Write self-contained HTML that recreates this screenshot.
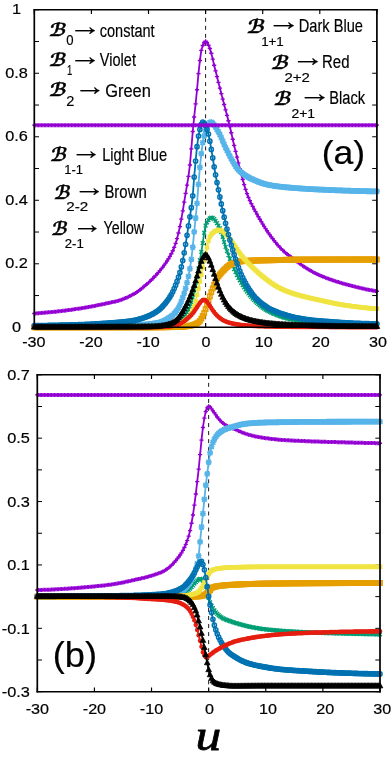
<!DOCTYPE html>
<html lang="en"><head><meta charset="utf-8"><title>Figure</title>
<style>html,body{margin:0;padding:0;background:#fff}svg{display:block}</style></head>
<body>
<svg width="392" height="758" viewBox="0 0 392 758">
<rect width="392" height="758" fill="#fff"/>
<defs>
<marker id="m-violet" markerUnits="userSpaceOnUse" markerWidth="12" markerHeight="12" refX="6" refY="6" viewBox="0 0 12 12" orient="0" overflow="visible"><g transform="translate(6 6) scale(1.0 1) translate(-6 -6)"><path d="M3.9 6H8.1M6 4V8" stroke="#9400D3" stroke-width="1.35" fill="none"/></g></marker>
<marker id="m-green" markerUnits="userSpaceOnUse" markerWidth="12" markerHeight="12" refX="6" refY="6" viewBox="0 0 12 12" orient="0" overflow="visible"><g transform="translate(6 6) scale(1.0 1) translate(-6 -6)"><path d="M4.1 4.1L7.9 7.9M4.1 7.9L7.9 4.1" stroke="#009E73" stroke-width="1.4" fill="none"/></g></marker>
<marker id="m-lblue" markerUnits="userSpaceOnUse" markerWidth="12" markerHeight="12" refX="6" refY="6" viewBox="0 0 12 12" orient="0" overflow="visible"><g transform="translate(6 6) scale(1.0 1) translate(-6 -6)"><path d="M3.1 6H8.9M6 3.1V8.9M3.68 3.68L8.32 8.32M3.68 8.32L8.32 3.68" stroke="#56B4E9" stroke-width="1.6" fill="none"/></g></marker>
<marker id="m-orange" markerUnits="userSpaceOnUse" markerWidth="12" markerHeight="12" refX="6" refY="6" viewBox="0 0 12 12" orient="0" overflow="visible"><g transform="translate(6 6) scale(1.0 1) translate(-6 -6)"><rect x="3.85" y="3.85" width="4.3" height="4.3" stroke="#E69F00" stroke-width="1.6" fill="none"/></g></marker>
<marker id="m-yellow" markerUnits="userSpaceOnUse" markerWidth="12" markerHeight="12" refX="6" refY="6" viewBox="0 0 12 12" orient="0" overflow="visible"><g transform="translate(6 6) scale(1.0 1) translate(-6 -6)"><rect x="3.75" y="3.75" width="4.5" height="4.5" fill="#F0E442"/></g></marker>
<marker id="m-dblue" markerUnits="userSpaceOnUse" markerWidth="12" markerHeight="12" refX="6" refY="6" viewBox="0 0 12 12" orient="0" overflow="visible"><g transform="translate(6 6) scale(1.0 1) translate(-6 -6)"><circle cx="6" cy="6" r="2.1" stroke="#0072B2" stroke-width="1.5" fill="none"/></g></marker>
<marker id="m-red" markerUnits="userSpaceOnUse" markerWidth="12" markerHeight="12" refX="6" refY="6" viewBox="0 0 12 12" orient="0" overflow="visible"><g transform="translate(6 6) scale(1.0 1) translate(-6 -6)"><circle cx="6" cy="6" r="2.3" fill="#E51E10"/></g></marker>
<marker id="m-black" markerUnits="userSpaceOnUse" markerWidth="12" markerHeight="12" refX="6" refY="6" viewBox="0 0 12 12" orient="0" overflow="visible"><g transform="translate(6 6) scale(1.0 1) translate(-6 -6)"><path d="M6 2.6L8.8 7.7L3.2 7.7Z" fill="#000000" stroke="#000000" stroke-width="0.8"/></g></marker>
</defs>
<g id="plot-a">
<line x1="205.6" y1="9.75" x2="205.6" y2="327.3" stroke="#000" stroke-width="0.9" stroke-dasharray="4 4.04"/>
<path d="M34.3 327.3v-4.3 M34.3 9.75v4.3 M91.4 327.3v-4.3 M91.4 9.75v4.3 M148.5 327.3v-4.3 M148.5 9.75v4.3 M205.6 327.3v-4.3 M205.6 9.75v4.3 M262.7 327.3v-4.3 M262.7 9.75v4.3 M319.8 327.3v-4.3 M319.8 9.75v4.3 M376.9 327.3v-4.3 M376.9 9.75v4.3" stroke="#000" stroke-width="1.15" fill="none"/>
<path d="M34.3 327.3h4.7 M376.9 327.3h-4.7 M34.3 295.55h4.7 M376.9 295.55h-4.7 M34.3 263.79h4.7 M376.9 263.79h-4.7 M34.3 232.04h4.7 M376.9 232.04h-4.7 M34.3 200.28h4.7 M376.9 200.28h-4.7 M34.3 168.53h4.7 M376.9 168.53h-4.7 M34.3 136.77h4.7 M376.9 136.77h-4.7 M34.3 105.02h4.7 M376.9 105.02h-4.7 M34.3 73.26h4.7 M376.9 73.26h-4.7 M34.3 41.5h4.7 M376.9 41.5h-4.7 M34.3 9.75h4.7 M376.9 9.75h-4.7" stroke="#000" stroke-width="1" fill="none"/>
<polyline fill="none" stroke="#9400D3" stroke-width="1.8" stroke-linejoin="round" marker-start="url(#m-violet)" marker-mid="url(#m-violet)" marker-end="url(#m-violet)" points="34.3,313.49 35.73,313.39 37.15,313.29 38.58,313.19 40.01,313.08 41.44,312.97 42.86,312.85 44.29,312.73 45.72,312.6 47.15,312.47 48.57,312.34 50,312.2 51.43,312.06 52.86,311.92 54.28,311.77 55.71,311.63 57.14,311.47 58.57,311.32 59.99,311.16 61.42,311 62.85,310.83 64.28,310.66 65.7,310.47 67.13,310.29 68.56,310.1 69.99,309.9 71.41,309.7 72.84,309.5 74.27,309.29 75.7,309.07 77.12,308.86 78.55,308.64 79.98,308.41 81.41,308.19 82.83,307.96 84.26,307.72 85.69,307.49 87.12,307.24 88.54,306.99 89.97,306.73 91.4,306.47 92.83,306.2 94.25,305.92 95.68,305.64 97.11,305.36 98.54,305.07 99.96,304.78 101.39,304.48 102.82,304.19 104.25,303.88 105.67,303.58 107.1,303.28 108.53,302.97 109.96,302.67 111.38,302.37 112.81,302.06 114.24,301.75 115.67,301.41 117.09,301.04 118.52,300.63 119.95,300.18 121.38,299.7 122.8,299.18 124.23,298.62 125.66,298.04 127.09,297.41 128.51,296.76 129.94,296.07 131.37,295.34 132.8,294.59 134.22,293.78 135.65,292.9 137.08,291.94 138.51,290.92 139.94,289.85 141.36,288.73 142.79,287.56 144.22,286.37 145.64,285.16 147.07,283.92 148.5,282.67 149.93,281.35 151.35,279.96 152.78,278.52 154.21,277.04 155.64,275.51 157.06,273.95 158.49,272.35 159.92,270.68 161.35,268.93 162.77,267.07 164.2,265.13 165.63,263.11 167.06,260.98 168.48,258.72 169.91,256.31 171.34,253.7 172.77,250.78 174.19,247.42 175.62,243.44 177.05,238.67 178.48,233.02 179.9,226.61 181.33,219.17 182.76,210.88 184.19,202.15 185.61,193.38 187.04,185.08 188.47,176.38 189.9,164.99 191.32,148.83 192.75,131.54 194.18,116.99 195.61,103.9 197.03,89.75 198.46,73.6 199.89,60.53 201.32,50.43 202.74,45.54 204.17,42.54 205.6,41.35 207.03,42.51 208.45,45.24 209.88,48.51 211.31,53.21 212.74,59.11 214.16,65.24 215.59,70.91 217.02,76.63 218.45,82.38 219.87,88.07 221.3,93.62 222.73,99.06 224.16,104.47 225.58,109.92 227.01,115.31 228.44,120.77 229.87,126.53 231.29,132.77 232.72,139.21 234.15,145.43 235.58,151.33 237,157.09 238.43,162.87 239.86,168.71 241.29,174.24 242.71,179.48 244.14,184.61 245.57,189.4 247,193.68 248.42,197.32 249.85,200.61 251.28,203.62 252.71,206.43 254.13,209.09 255.56,211.66 256.99,214.19 258.42,216.73 259.84,219.22 261.27,221.66 262.7,224.05 264.13,226.37 265.56,228.62 266.98,230.79 268.41,232.89 269.84,234.9 271.26,236.84 272.69,238.74 274.12,240.59 275.55,242.38 276.97,244.11 278.4,245.77 279.83,247.35 281.26,248.84 282.68,250.24 284.11,251.55 285.54,252.78 286.97,253.95 288.39,255.07 289.82,256.15 291.25,257.2 292.68,258.25 294.1,259.3 295.53,260.36 296.96,261.44 298.39,262.51 299.81,263.57 301.24,264.62 302.67,265.65 304.1,266.65 305.52,267.6 306.95,268.52 308.38,269.39 309.81,270.24 311.24,271.06 312.66,271.86 314.09,272.63 315.52,273.37 316.94,274.07 318.37,274.73 319.8,275.35 321.23,275.96 322.65,276.54 324.08,277.12 325.51,277.68 326.94,278.23 328.36,278.76 329.79,279.28 331.22,279.78 332.65,280.27 334.07,280.75 335.5,281.22 336.93,281.68 338.36,282.12 339.79,282.56 341.21,282.98 342.64,283.39 344.07,283.8 345.5,284.19 346.92,284.58 348.35,284.97 349.78,285.35 351.2,285.73 352.63,286.1 354.06,286.46 355.49,286.82 356.91,287.17 358.34,287.52 359.77,287.86 361.2,288.19 362.62,288.51 364.05,288.83 365.48,289.13 366.91,289.43 368.33,289.72 369.76,290 371.19,290.27 372.62,290.54 374.05,290.79 375.47,291.03 376.9,291.26"/>
<polyline fill="none" stroke="#009E73" stroke-width="1.8" stroke-linejoin="round" marker-start="url(#m-green)" marker-mid="url(#m-green)" marker-end="url(#m-green)" points="34.3,327.14 35.73,327.14 37.15,327.14 38.58,327.14 40.01,327.14 41.44,327.14 42.86,327.14 44.29,327.13 45.72,327.13 47.15,327.13 48.57,327.13 50,327.12 51.43,327.12 52.86,327.12 54.28,327.11 55.71,327.11 57.14,327.11 58.57,327.1 59.99,327.1 61.42,327.09 62.85,327.09 64.28,327.08 65.7,327.07 67.13,327.07 68.56,327.06 69.99,327.05 71.41,327.04 72.84,327.04 74.27,327.03 75.7,327.02 77.12,327.01 78.55,327 79.98,326.99 81.41,326.98 82.83,326.97 84.26,326.96 85.69,326.95 87.12,326.94 88.54,326.92 89.97,326.91 91.4,326.9 92.83,326.89 94.25,326.87 95.68,326.86 97.11,326.84 98.54,326.83 99.96,326.81 101.39,326.8 102.82,326.78 104.25,326.77 105.67,326.75 107.1,326.73 108.53,326.71 109.96,326.7 111.38,326.68 112.81,326.66 114.24,326.64 115.67,326.62 117.09,326.6 118.52,326.58 119.95,326.56 121.38,326.54 122.8,326.51 124.23,326.49 125.66,326.47 127.09,326.44 128.51,326.42 129.94,326.39 131.37,326.37 132.8,326.34 134.22,326.32 135.65,326.29 137.08,326.26 138.51,326.24 139.94,326.21 141.36,326.18 142.79,326.15 144.22,326.12 145.64,326.09 147.07,326.06 148.5,326.03 149.93,325.99 151.35,325.93 152.78,325.86 154.21,325.77 155.64,325.67 157.06,325.55 158.49,325.41 159.92,325.26 161.35,325.09 162.77,324.9 164.2,324.71 165.63,324.49 167.06,324.26 168.48,324.02 169.91,323.76 171.34,323.49 172.77,323.15 174.19,322.7 175.62,322.13 177.05,321.46 178.48,320.68 179.9,319.81 181.33,318.84 182.76,317.77 184.19,316.42 185.61,314.61 187.04,312.4 188.47,309.83 189.9,306.64 191.32,302.59 192.75,297.79 194.18,292.37 195.61,285.52 197.03,277.15 198.46,268.4 199.89,260.17 201.32,251.94 202.74,243.14 204.17,232.95 205.6,225.58 207.03,222.46 208.45,220 209.88,218.3 211.31,217.57 212.74,217.88 214.16,219.03 215.59,220.82 217.02,223.07 218.45,225.6 219.87,228.27 221.3,232.08 222.73,236.93 224.16,242.11 225.58,246.91 227.01,251.07 228.44,255.05 229.87,258.82 231.29,262.38 232.72,265.78 234.15,269.02 235.58,272.09 237,274.99 238.43,277.75 239.86,280.37 241.29,282.84 242.71,285.2 244.14,287.45 245.57,289.6 247,291.61 248.42,293.48 249.85,295.26 251.28,296.96 252.71,298.56 254.13,300.08 255.56,301.5 256.99,302.87 258.42,304.17 259.84,305.4 261.27,306.55 262.7,307.61 264.13,308.6 265.56,309.55 266.98,310.43 268.41,311.23 269.84,311.95 271.26,312.6 272.69,313.24 274.12,313.85 275.55,314.45 276.97,315.02 278.4,315.58 279.83,316.11 281.26,316.61 282.68,317.09 284.11,317.55 285.54,317.97 286.97,318.37 288.39,318.73 289.82,319.06 291.25,319.36 292.68,319.64 294.1,319.9 295.53,320.16 296.96,320.41 298.39,320.65 299.81,320.88 301.24,321.1 302.67,321.32 304.1,321.52 305.52,321.72 306.95,321.9 308.38,322.08 309.81,322.25 311.24,322.41 312.66,322.56 314.09,322.7 315.52,322.83 316.94,322.95 318.37,323.07 319.8,323.17 321.23,323.27 322.65,323.37 324.08,323.47 325.51,323.57 326.94,323.67 328.36,323.76 329.79,323.86 331.22,323.95 332.65,324.05 334.07,324.14 335.5,324.23 336.93,324.31 338.36,324.4 339.79,324.48 341.21,324.57 342.64,324.65 344.07,324.73 345.5,324.8 346.92,324.88 348.35,324.95 349.78,325.02 351.2,325.08 352.63,325.14 354.06,325.21 355.49,325.26 356.91,325.32 358.34,325.37 359.77,325.42 361.2,325.46 362.62,325.5 364.05,325.54 365.48,325.58 366.91,325.61 368.33,325.64 369.76,325.66 371.19,325.68 372.62,325.69 374.05,325.7 375.47,325.71 376.9,325.71"/>
<polyline fill="none" stroke="#56B4E9" stroke-width="1.8" stroke-linejoin="round" marker-start="url(#m-lblue)" marker-mid="url(#m-lblue)" marker-end="url(#m-lblue)" points="34.3,326.98 35.73,326.98 37.15,326.98 38.58,326.98 40.01,326.98 41.44,326.98 42.86,326.97 44.29,326.97 45.72,326.96 47.15,326.96 48.57,326.95 50,326.95 51.43,326.94 52.86,326.94 54.28,326.93 55.71,326.92 57.14,326.91 58.57,326.9 59.99,326.89 61.42,326.88 62.85,326.87 64.28,326.86 65.7,326.85 67.13,326.84 68.56,326.83 69.99,326.81 71.41,326.8 72.84,326.78 74.27,326.77 75.7,326.75 77.12,326.74 78.55,326.72 79.98,326.71 81.41,326.69 82.83,326.67 84.26,326.65 85.69,326.63 87.12,326.61 88.54,326.59 89.97,326.57 91.4,326.55 92.83,326.53 94.25,326.51 95.68,326.49 97.11,326.46 98.54,326.44 99.96,326.42 101.39,326.39 102.82,326.37 104.25,326.34 105.67,326.32 107.1,326.29 108.53,326.26 109.96,326.24 111.38,326.21 112.81,326.18 114.24,326.15 115.67,326.12 117.09,326.09 118.52,326.06 119.95,326.03 121.38,326 122.8,325.96 124.23,325.91 125.66,325.86 127.09,325.81 128.51,325.75 129.94,325.68 131.37,325.61 132.8,325.53 134.22,325.44 135.65,325.35 137.08,325.25 138.51,325.14 139.94,325.03 141.36,324.9 142.79,324.77 144.22,324.64 145.64,324.49 147.07,324.34 148.5,324.17 149.93,324 151.35,323.82 152.78,323.63 154.21,323.44 155.64,323.23 157.06,323.01 158.49,322.73 159.92,322.33 161.35,321.83 162.77,321.23 164.2,320.55 165.63,319.8 167.06,318.99 168.48,318.13 169.91,317.24 171.34,316.22 172.77,315.02 174.19,313.62 175.62,312.01 177.05,310.15 178.48,307.81 179.9,304.81 181.33,301.3 182.76,297.39 184.19,293.18 185.61,288.33 187.04,282.71 188.47,276.29 189.9,268.74 191.32,259.35 192.75,247.15 194.18,231.88 195.61,217.99 197.03,203.47 198.46,184.47 199.89,167.27 201.32,153.67 202.74,142.54 204.17,135.78 205.6,131.11 207.03,127.15 208.45,124.17 209.88,122.46 211.31,122.25 212.74,123.19 214.16,124.9 215.59,127.1 217.02,129.5 218.45,131.84 219.87,134.53 221.3,137.69 222.73,141.08 224.16,144.48 225.58,147.66 227.01,150.48 228.44,153.26 229.87,156.05 231.29,158.79 232.72,161.42 234.15,163.89 235.58,166.14 237,168.12 238.43,169.77 239.86,171.13 241.29,172.37 242.71,173.52 244.14,174.57 245.57,175.54 247,176.44 248.42,177.26 249.85,178.03 251.28,178.74 252.71,179.4 254.13,180.03 255.56,180.65 256.99,181.24 258.42,181.81 259.84,182.35 261.27,182.86 262.7,183.33 264.13,183.78 265.56,184.18 266.98,184.55 268.41,184.87 269.84,185.16 271.26,185.4 272.69,185.63 274.12,185.85 275.55,186.06 276.97,186.26 278.4,186.44 279.83,186.62 281.26,186.78 282.68,186.94 284.11,187.09 285.54,187.23 286.97,187.37 288.39,187.5 289.82,187.62 291.25,187.75 292.68,187.86 294.1,187.98 295.53,188.1 296.96,188.21 298.39,188.31 299.81,188.42 301.24,188.52 302.67,188.62 304.1,188.71 305.52,188.81 306.95,188.9 308.38,188.98 309.81,189.06 311.24,189.14 312.66,189.22 314.09,189.29 315.52,189.36 316.94,189.43 318.37,189.5 319.8,189.56 321.23,189.62 322.65,189.69 324.08,189.75 325.51,189.81 326.94,189.87 328.36,189.93 329.79,189.99 331.22,190.05 332.65,190.11 334.07,190.17 335.5,190.23 336.93,190.29 338.36,190.34 339.79,190.4 341.21,190.45 342.64,190.51 344.07,190.56 345.5,190.61 346.92,190.66 348.35,190.71 349.78,190.76 351.2,190.81 352.63,190.85 354.06,190.9 355.49,190.94 356.91,190.98 358.34,191.02 359.77,191.06 361.2,191.1 362.62,191.13 364.05,191.17 365.48,191.2 366.91,191.23 368.33,191.26 369.76,191.28 371.19,191.31 372.62,191.33 374.05,191.35 375.47,191.37 376.9,191.39"/>
<polyline fill="none" stroke="#E69F00" stroke-width="1.8" stroke-linejoin="round" marker-start="url(#m-orange)" marker-mid="url(#m-orange)" marker-end="url(#m-orange)" points="34.3,327.3 35.73,327.3 37.15,327.3 38.58,327.3 40.01,327.3 41.44,327.3 42.86,327.3 44.29,327.3 45.72,327.3 47.15,327.3 48.57,327.3 50,327.3 51.43,327.3 52.86,327.3 54.28,327.3 55.71,327.3 57.14,327.3 58.57,327.3 59.99,327.3 61.42,327.3 62.85,327.3 64.28,327.3 65.7,327.3 67.13,327.3 68.56,327.3 69.99,327.3 71.41,327.3 72.84,327.3 74.27,327.3 75.7,327.3 77.12,327.3 78.55,327.3 79.98,327.3 81.41,327.3 82.83,327.3 84.26,327.3 85.69,327.3 87.12,327.3 88.54,327.3 89.97,327.3 91.4,327.3 92.83,327.3 94.25,327.3 95.68,327.3 97.11,327.3 98.54,327.3 99.96,327.3 101.39,327.3 102.82,327.3 104.25,327.3 105.67,327.3 107.1,327.3 108.53,327.3 109.96,327.3 111.38,327.3 112.81,327.3 114.24,327.3 115.67,327.3 117.09,327.3 118.52,327.3 119.95,327.3 121.38,327.3 122.8,327.3 124.23,327.3 125.66,327.3 127.09,327.3 128.51,327.3 129.94,327.3 131.37,327.3 132.8,327.3 134.22,327.3 135.65,327.3 137.08,327.3 138.51,327.3 139.94,327.3 141.36,327.3 142.79,327.3 144.22,327.3 145.64,327.3 147.07,327.3 148.5,327.3 149.93,327.3 151.35,327.3 152.78,327.29 154.21,327.29 155.64,327.28 157.06,327.27 158.49,327.26 159.92,327.25 161.35,327.24 162.77,327.22 164.2,327.2 165.63,327.18 167.06,327.16 168.48,327.14 169.91,327.12 171.34,327.1 172.77,327.07 174.19,327.04 175.62,327.01 177.05,326.98 178.48,326.94 179.9,326.87 181.33,326.78 182.76,326.67 184.19,326.54 185.61,326.39 187.04,326.22 188.47,326.03 189.9,325.8 191.32,325.48 192.75,325.08 194.18,324.58 195.61,323.98 197.03,323.26 198.46,322.42 199.89,320.93 201.32,318.7 202.74,316.03 204.17,313.02 205.6,309.17 207.03,305.07 208.45,300.83 209.88,296.38 211.31,292.13 212.74,288.41 214.16,284.88 215.59,281.57 217.02,278.64 218.45,276.24 219.87,274.47 221.3,272.8 222.73,271.2 224.16,269.7 225.58,268.34 227.01,267.03 228.44,265.83 229.87,264.84 231.29,264.05 232.72,263.35 234.15,262.79 235.58,262.39 237,262.07 238.43,261.78 239.86,261.53 241.29,261.31 242.71,261.13 244.14,261 245.57,260.9 247,260.81 248.42,260.74 249.85,260.68 251.28,260.62 252.71,260.58 254.13,260.53 255.56,260.49 256.99,260.46 258.42,260.42 259.84,260.39 261.27,260.36 262.7,260.33 264.13,260.31 265.56,260.28 266.98,260.26 268.41,260.24 269.84,260.21 271.26,260.19 272.69,260.17 274.12,260.14 275.55,260.11 276.97,260.08 278.4,260.04 279.83,260 281.26,259.97 282.68,259.93 284.11,259.89 285.54,259.85 286.97,259.82 288.39,259.79 289.82,259.75 291.25,259.73 292.68,259.7 294.1,259.68 295.53,259.67 296.96,259.66 298.39,259.66 299.81,259.65 301.24,259.65 302.67,259.64 304.1,259.64 305.52,259.63 306.95,259.63 308.38,259.63 309.81,259.62 311.24,259.62 312.66,259.61 314.09,259.61 315.52,259.61 316.94,259.6 318.37,259.6 319.8,259.6 321.23,259.59 322.65,259.59 324.08,259.59 325.51,259.58 326.94,259.58 328.36,259.58 329.79,259.58 331.22,259.57 332.65,259.57 334.07,259.57 335.5,259.57 336.93,259.56 338.36,259.56 339.79,259.56 341.21,259.56 342.64,259.56 344.07,259.55 345.5,259.55 346.92,259.55 348.35,259.55 349.78,259.55 351.2,259.55 352.63,259.54 354.06,259.54 355.49,259.54 356.91,259.54 358.34,259.54 359.77,259.54 361.2,259.54 362.62,259.54 364.05,259.54 365.48,259.54 366.91,259.54 368.33,259.54 369.76,259.54 371.19,259.54 372.62,259.54 374.05,259.53 375.47,259.53 376.9,259.53"/>
<polyline fill="none" stroke="#F0E442" stroke-width="1.8" stroke-linejoin="round" marker-start="url(#m-yellow)" marker-mid="url(#m-yellow)" marker-end="url(#m-yellow)" points="34.3,327.3 35.73,327.3 37.15,327.3 38.58,327.3 40.01,327.3 41.44,327.3 42.86,327.3 44.29,327.3 45.72,327.3 47.15,327.29 48.57,327.29 50,327.29 51.43,327.29 52.86,327.29 54.28,327.29 55.71,327.28 57.14,327.28 58.57,327.28 59.99,327.27 61.42,327.27 62.85,327.27 64.28,327.27 65.7,327.26 67.13,327.26 68.56,327.25 69.99,327.25 71.41,327.25 72.84,327.24 74.27,327.24 75.7,327.23 77.12,327.23 78.55,327.22 79.98,327.22 81.41,327.21 82.83,327.2 84.26,327.2 85.69,327.19 87.12,327.19 88.54,327.18 89.97,327.17 91.4,327.16 92.83,327.16 94.25,327.15 95.68,327.14 97.11,327.13 98.54,327.12 99.96,327.12 101.39,327.11 102.82,327.1 104.25,327.09 105.67,327.08 107.1,327.07 108.53,327.06 109.96,327.05 111.38,327.04 112.81,327.03 114.24,327.02 115.67,327 117.09,326.99 118.52,326.98 119.95,326.97 121.38,326.96 122.8,326.94 124.23,326.93 125.66,326.92 127.09,326.9 128.51,326.89 129.94,326.88 131.37,326.86 132.8,326.85 134.22,326.83 135.65,326.82 137.08,326.8 138.51,326.78 139.94,326.77 141.36,326.75 142.79,326.74 144.22,326.72 145.64,326.7 147.07,326.68 148.5,326.66 149.93,326.64 151.35,326.61 152.78,326.56 154.21,326.51 155.64,326.45 157.06,326.37 158.49,326.28 159.92,326.19 161.35,326.08 162.77,325.96 164.2,325.83 165.63,325.69 167.06,325.53 168.48,325.37 169.91,325.19 171.34,325 172.77,324.8 174.19,324.59 175.62,324.36 177.05,324.12 178.48,323.81 179.9,323.36 181.33,322.76 182.76,322.04 184.19,321.17 185.61,320.17 187.04,319.04 188.47,317.77 189.9,315.98 191.32,313.35 192.75,310.05 194.18,306.22 195.61,301.3 197.03,294.91 198.46,288.47 199.89,281.68 201.32,274.7 202.74,267.65 204.17,260.69 205.6,253.96 207.03,247.59 208.45,241.01 209.88,236.79 211.31,234.52 212.74,232.85 214.16,231.72 215.59,230.99 217.02,230.41 218.45,230.04 219.87,230.02 221.3,230.55 222.73,231.49 224.16,232.62 225.58,233.79 227.01,235.29 228.44,237.08 229.87,239.01 231.29,240.93 232.72,242.87 234.15,244.93 235.58,247.06 237,249.2 238.43,251.31 239.86,253.33 241.29,255.2 242.71,256.95 244.14,258.63 245.57,260.25 247,261.8 248.42,263.31 249.85,264.77 251.28,266.17 252.71,267.54 254.13,268.87 255.56,270.19 256.99,271.51 258.42,272.81 259.84,274.08 261.27,275.31 262.7,276.49 264.13,277.63 265.56,278.75 266.98,279.85 268.41,280.92 269.84,281.96 271.26,282.97 272.69,283.93 274.12,284.85 275.55,285.73 276.97,286.57 278.4,287.37 279.83,288.13 281.26,288.85 282.68,289.51 284.11,290.13 285.54,290.73 286.97,291.3 288.39,291.85 289.82,292.38 291.25,292.88 292.68,293.36 294.1,293.83 295.53,294.27 296.96,294.7 298.39,295.11 299.81,295.51 301.24,295.89 302.67,296.25 304.1,296.61 305.52,296.97 306.95,297.31 308.38,297.65 309.81,297.99 311.24,298.31 312.66,298.62 314.09,298.93 315.52,299.24 316.94,299.54 318.37,299.85 319.8,300.15 321.23,300.46 322.65,300.77 324.08,301.09 325.51,301.4 326.94,301.72 328.36,302.04 329.79,302.35 331.22,302.66 332.65,302.97 334.07,303.27 335.5,303.56 336.93,303.84 338.36,304.11 339.79,304.37 341.21,304.62 342.64,304.85 344.07,305.07 345.5,305.28 346.92,305.49 348.35,305.69 349.78,305.89 351.2,306.08 352.63,306.28 354.06,306.47 355.49,306.65 356.91,306.83 358.34,307.01 359.77,307.18 361.2,307.35 362.62,307.51 364.05,307.66 365.48,307.81 366.91,307.96 368.33,308.09 369.76,308.22 371.19,308.34 372.62,308.46 374.05,308.57 375.47,308.66 376.9,308.76"/>
<polyline fill="none" stroke="#0072B2" stroke-width="1.8" stroke-linejoin="round" marker-start="url(#m-dblue)" marker-mid="url(#m-dblue)" marker-end="url(#m-dblue)" points="34.3,325.71 35.73,325.69 37.15,325.67 38.58,325.65 40.01,325.63 41.44,325.6 42.86,325.58 44.29,325.55 45.72,325.53 47.15,325.5 48.57,325.47 50,325.44 51.43,325.41 52.86,325.38 54.28,325.35 55.71,325.32 57.14,325.29 58.57,325.26 59.99,325.22 61.42,325.19 62.85,325.15 64.28,325.12 65.7,325.08 67.13,325.05 68.56,325.01 69.99,324.97 71.41,324.93 72.84,324.89 74.27,324.84 75.7,324.8 77.12,324.75 78.55,324.71 79.98,324.66 81.41,324.61 82.83,324.55 84.26,324.5 85.69,324.44 87.12,324.38 88.54,324.32 89.97,324.25 91.4,324.17 92.83,324.1 94.25,324.02 95.68,323.93 97.11,323.85 98.54,323.76 99.96,323.66 101.39,323.57 102.82,323.47 104.25,323.37 105.67,323.27 107.1,323.16 108.53,323.06 109.96,322.95 111.38,322.84 112.81,322.74 114.24,322.63 115.67,322.52 117.09,322.41 118.52,322.29 119.95,322.17 121.38,322.04 122.8,321.91 124.23,321.76 125.66,321.61 127.09,321.45 128.51,321.28 129.94,321.09 131.37,320.89 132.8,320.67 134.22,320.41 135.65,320.1 137.08,319.76 138.51,319.38 139.94,318.96 141.36,318.52 142.79,318.06 144.22,317.57 145.64,317.07 147.07,316.53 148.5,315.94 149.93,315.31 151.35,314.62 152.78,313.88 154.21,313.07 155.64,312.2 157.06,311.26 158.49,310.21 159.92,309.02 161.35,307.69 162.77,306.22 164.2,304.61 165.63,302.88 167.06,301.02 168.48,299.04 169.91,296.93 171.34,294.51 172.77,291.73 174.19,288.61 175.62,285.17 177.05,281.45 178.48,277.22 179.9,272.38 181.33,266.9 182.76,260.6 184.19,252.8 185.61,244.24 187.04,235.37 188.47,225.94 189.9,216.74 191.32,207.68 192.75,195.82 194.18,177 195.61,160.98 197.03,146.66 198.46,135.99 199.89,129.47 201.32,124.36 202.74,122.17 204.17,123.14 205.6,125.83 207.03,129.55 208.45,134.01 209.88,141.22 211.31,149.47 212.74,157.96 214.16,166.79 215.59,174.86 217.02,182.48 218.45,189.8 219.87,196.92 221.3,203.91 222.73,210.71 224.16,217.2 225.58,223.32 227.01,229.11 228.44,234.62 229.87,239.9 231.29,244.99 232.72,249.92 234.15,254.65 235.58,259.12 237,263.35 238.43,267.41 239.86,271.19 241.29,274.6 242.71,277.67 244.14,280.5 245.57,283.17 247,285.74 248.42,288.11 249.85,290.29 251.28,292.39 252.71,294.35 254.13,296.15 255.56,297.75 256.99,299.21 258.42,300.57 259.84,301.83 261.27,303.01 262.7,304.12 264.13,305.17 265.56,306.17 266.98,307.11 268.41,307.98 269.84,308.76 271.26,309.48 272.69,310.15 274.12,310.79 275.55,311.39 276.97,311.96 278.4,312.5 279.83,313.02 281.26,313.52 282.68,314 284.11,314.47 285.54,314.93 286.97,315.38 288.39,315.8 289.82,316.21 291.25,316.59 292.68,316.95 294.1,317.27 295.53,317.56 296.96,317.83 298.39,318.09 299.81,318.35 301.24,318.6 302.67,318.84 304.1,319.07 305.52,319.28 306.95,319.49 308.38,319.69 309.81,319.88 311.24,320.06 312.66,320.23 314.09,320.38 315.52,320.53 316.94,320.66 318.37,320.78 319.8,320.9 321.23,321.01 322.65,321.13 324.08,321.24 325.51,321.35 326.94,321.47 328.36,321.58 329.79,321.69 331.22,321.79 332.65,321.9 334.07,322 335.5,322.11 336.93,322.21 338.36,322.31 339.79,322.4 341.21,322.5 342.64,322.59 344.07,322.68 345.5,322.77 346.92,322.85 348.35,322.93 349.78,323.01 351.2,323.09 352.63,323.16 354.06,323.23 355.49,323.29 356.91,323.36 358.34,323.42 359.77,323.47 361.2,323.52 362.62,323.57 364.05,323.61 365.48,323.65 366.91,323.69 368.33,323.72 369.76,323.75 371.19,323.77 372.62,323.78 374.05,323.8 375.47,323.8 376.9,323.81"/>
<polyline fill="none" stroke="#E51E10" stroke-width="1.8" stroke-linejoin="round" marker-start="url(#m-red)" marker-mid="url(#m-red)" marker-end="url(#m-red)" points="34.3,327.3 35.73,327.3 37.15,327.3 38.58,327.3 40.01,327.3 41.44,327.3 42.86,327.3 44.29,327.3 45.72,327.3 47.15,327.3 48.57,327.3 50,327.3 51.43,327.3 52.86,327.3 54.28,327.3 55.71,327.3 57.14,327.3 58.57,327.3 59.99,327.3 61.42,327.3 62.85,327.3 64.28,327.3 65.7,327.3 67.13,327.3 68.56,327.3 69.99,327.3 71.41,327.3 72.84,327.3 74.27,327.3 75.7,327.3 77.12,327.3 78.55,327.3 79.98,327.3 81.41,327.3 82.83,327.3 84.26,327.3 85.69,327.3 87.12,327.3 88.54,327.3 89.97,327.3 91.4,327.3 92.83,327.3 94.25,327.3 95.68,327.3 97.11,327.3 98.54,327.3 99.96,327.3 101.39,327.3 102.82,327.3 104.25,327.3 105.67,327.3 107.1,327.3 108.53,327.3 109.96,327.3 111.38,327.3 112.81,327.3 114.24,327.3 115.67,327.3 117.09,327.3 118.52,327.3 119.95,327.3 121.38,327.3 122.8,327.3 124.23,327.3 125.66,327.3 127.09,327.3 128.51,327.3 129.94,327.3 131.37,327.3 132.8,327.3 134.22,327.3 135.65,327.3 137.08,327.3 138.51,327.3 139.94,327.3 141.36,327.3 142.79,327.3 144.22,327.3 145.64,327.3 147.07,327.3 148.5,327.3 149.93,327.3 151.35,327.28 152.78,327.26 154.21,327.24 155.64,327.21 157.06,327.17 158.49,327.12 159.92,327.07 161.35,327.02 162.77,326.96 164.2,326.89 165.63,326.82 167.06,326.73 168.48,326.61 169.91,326.45 171.34,326.25 172.77,326.02 174.19,325.75 175.62,325.46 177.05,325.08 178.48,324.53 179.9,323.84 181.33,323.06 182.76,322.22 184.19,321.25 185.61,320.09 187.04,318.84 188.47,317.59 189.9,316.34 191.32,314.9 192.75,313.25 194.18,311.39 195.61,309.34 197.03,307.15 198.46,304.94 199.89,302.89 201.32,301.22 202.74,300.17 204.17,299.91 205.6,300.5 207.03,301.82 208.45,303.68 209.88,305.82 211.31,308.03 212.74,310.18 214.16,312.16 215.59,313.94 217.02,315.5 218.45,316.86 219.87,318.04 221.3,319.06 222.73,319.94 224.16,320.7 225.58,321.36 227.01,321.93 228.44,322.43 229.87,322.86 231.29,323.25 232.72,323.58 234.15,323.88 235.58,324.15 237,324.39 238.43,324.6 239.86,324.79 241.29,324.96 242.71,325.12 244.14,325.26 245.57,325.39 247,325.5 248.42,325.61 249.85,325.71 251.28,325.8 252.71,325.88 254.13,325.95 255.56,326.02 256.99,326.09 258.42,326.15 259.84,326.2 261.27,326.26 262.7,326.3 264.13,326.35 265.56,326.39 266.98,326.43 268.41,326.47 269.84,326.5 271.26,326.53 272.69,326.57 274.12,326.59 275.55,326.62 276.97,326.65 278.4,326.67 279.83,326.69 281.26,326.72 282.68,326.74 284.11,326.76 285.54,326.77 286.97,326.79 288.39,326.81 289.82,326.82 291.25,326.84 292.68,326.85 294.1,326.87 295.53,326.88 296.96,326.89 298.39,326.91 299.81,326.92 301.24,326.93 302.67,326.94 304.1,326.95 305.52,326.96 306.95,326.97 308.38,326.98 309.81,326.99 311.24,326.99 312.66,327 314.09,327.01 315.52,327.02 316.94,327.02 318.37,327.03 319.8,327.04 321.23,327.04 322.65,327.05 324.08,327.05 325.51,327.06 326.94,327.07 328.36,327.07 329.79,327.08 331.22,327.08 332.65,327.09 334.07,327.09 335.5,327.1 336.93,327.1 338.36,327.1 339.79,327.11 341.21,327.11 342.64,327.12 344.07,327.12 345.5,327.12 346.92,327.13 348.35,327.13 349.78,327.13 351.2,327.14 352.63,327.14 354.06,327.14 355.49,327.15 356.91,327.15 358.34,327.15 359.77,327.15 361.2,327.16 362.62,327.16 364.05,327.16 365.48,327.16 366.91,327.17 368.33,327.17 369.76,327.17 371.19,327.17 372.62,327.18 374.05,327.18 375.47,327.18 376.9,327.18"/>
<polyline fill="none" stroke="#000000" stroke-width="1.8" stroke-linejoin="round" marker-start="url(#m-black)" marker-mid="url(#m-black)" marker-end="url(#m-black)" points="34.3,327.3 35.73,327.3 37.15,327.3 38.58,327.3 40.01,327.3 41.44,327.3 42.86,327.3 44.29,327.3 45.72,327.3 47.15,327.3 48.57,327.3 50,327.3 51.43,327.3 52.86,327.3 54.28,327.29 55.71,327.29 57.14,327.29 58.57,327.29 59.99,327.29 61.42,327.29 62.85,327.29 64.28,327.29 65.7,327.29 67.13,327.28 68.56,327.28 69.99,327.28 71.41,327.28 72.84,327.28 74.27,327.27 75.7,327.27 77.12,327.27 78.55,327.27 79.98,327.27 81.41,327.26 82.83,327.26 84.26,327.26 85.69,327.25 87.12,327.25 88.54,327.25 89.97,327.24 91.4,327.24 92.83,327.24 94.25,327.23 95.68,327.23 97.11,327.23 98.54,327.22 99.96,327.22 101.39,327.21 102.82,327.21 104.25,327.21 105.67,327.2 107.1,327.2 108.53,327.19 109.96,327.19 111.38,327.18 112.81,327.17 114.24,327.17 115.67,327.16 117.09,327.16 118.52,327.15 119.95,327.14 121.38,327.14 122.8,327.13 124.23,327.13 125.66,327.12 127.09,327.11 128.51,327.1 129.94,327.1 131.37,327.09 132.8,327.08 134.22,327.07 135.65,327.06 137.08,327.06 138.51,327.05 139.94,327.04 141.36,327.03 142.79,327.02 144.22,327.01 145.64,327 147.07,326.99 148.5,326.98 149.93,326.96 151.35,326.92 152.78,326.86 154.21,326.78 155.64,326.69 157.06,326.58 158.49,326.47 159.92,326.35 161.35,326.2 162.77,326 164.2,325.75 165.63,325.47 167.06,325.13 168.48,324.76 169.91,324.3 171.34,323.71 172.77,322.99 174.19,322.14 175.62,321.16 177.05,319.89 178.48,318.14 179.9,316.19 181.33,314.07 182.76,311.72 184.19,309.2 185.61,306.54 187.04,303.7 188.47,300.64 189.9,297.34 191.32,293.76 192.75,289.91 194.18,285.78 195.61,281.17 197.03,276.26 198.46,271.36 199.89,266.64 201.32,261.67 202.74,258.07 204.17,256.01 205.6,255.05 207.03,256.01 208.45,258.24 209.88,261.5 211.31,265.5 212.74,269.93 214.16,274.52 215.59,279.06 217.02,283.4 218.45,287.45 219.87,291.16 221.3,294.53 222.73,297.56 224.16,300.28 225.58,302.7 227.01,304.86 228.44,306.78 229.87,308.5 231.29,310.03 232.72,311.39 234.15,312.62 235.58,313.71 237,314.7 238.43,315.59 239.86,316.4 241.29,317.13 242.71,317.79 244.14,318.39 245.57,318.94 247,319.44 248.42,319.9 249.85,320.32 251.28,320.71 252.71,321.07 254.13,321.4 255.56,321.7 256.99,321.98 258.42,322.25 259.84,322.49 261.27,322.72 262.7,322.93 264.13,323.13 265.56,323.31 266.98,323.48 268.41,323.65 269.84,323.8 271.26,323.94 272.69,324.08 274.12,324.2 275.55,324.32 276.97,324.43 278.4,324.54 279.83,324.64 281.26,324.74 282.68,324.83 284.11,324.91 285.54,325 286.97,325.07 288.39,325.15 289.82,325.22 291.25,325.28 292.68,325.35 294.1,325.41 295.53,325.47 296.96,325.52 298.39,325.57 299.81,325.62 301.24,325.67 302.67,325.72 304.1,325.76 305.52,325.81 306.95,325.85 308.38,325.89 309.81,325.92 311.24,325.96 312.66,325.99 314.09,326.03 315.52,326.06 316.94,326.09 318.37,326.12 319.8,326.15 321.23,326.18 322.65,326.2 324.08,326.23 325.51,326.25 326.94,326.28 328.36,326.3 329.79,326.32 331.22,326.35 332.65,326.37 334.07,326.39 335.5,326.41 336.93,326.43 338.36,326.44 339.79,326.46 341.21,326.48 342.64,326.5 344.07,326.51 345.5,326.53 346.92,326.54 348.35,326.56 349.78,326.57 351.2,326.59 352.63,326.6 354.06,326.61 355.49,326.63 356.91,326.64 358.34,326.65 359.77,326.66 361.2,326.67 362.62,326.69 364.05,326.7 365.48,326.71 366.91,326.72 368.33,326.73 369.76,326.74 371.19,326.75 372.62,326.76 374.05,326.77 375.47,326.77 376.9,326.78"/>
<polyline fill="none" stroke="#9400D3" stroke-width="1.8" stroke-linejoin="round" marker-start="url(#m-violet)" marker-mid="url(#m-violet)" marker-end="url(#m-violet)" points="34.3,125.14 35.73,125.14 37.15,125.14 38.58,125.14 40.01,125.14 41.44,125.14 42.86,125.14 44.29,125.14 45.72,125.14 47.15,125.14 48.57,125.14 50,125.14 51.43,125.14 52.86,125.14 54.28,125.14 55.71,125.14 57.14,125.14 58.57,125.14 59.99,125.14 61.42,125.14 62.85,125.14 64.28,125.14 65.7,125.14 67.13,125.14 68.56,125.14 69.99,125.14 71.41,125.14 72.84,125.14 74.27,125.14 75.7,125.14 77.12,125.14 78.55,125.14 79.98,125.14 81.41,125.14 82.83,125.14 84.26,125.14 85.69,125.14 87.12,125.14 88.54,125.14 89.97,125.14 91.4,125.14 92.83,125.14 94.25,125.14 95.68,125.14 97.11,125.14 98.54,125.14 99.96,125.14 101.39,125.14 102.82,125.14 104.25,125.14 105.67,125.14 107.1,125.14 108.53,125.14 109.96,125.14 111.38,125.14 112.81,125.14 114.24,125.14 115.67,125.14 117.09,125.14 118.52,125.14 119.95,125.14 121.38,125.14 122.8,125.14 124.23,125.14 125.66,125.14 127.09,125.14 128.51,125.14 129.94,125.14 131.37,125.14 132.8,125.14 134.22,125.14 135.65,125.14 137.08,125.14 138.51,125.14 139.94,125.14 141.36,125.14 142.79,125.14 144.22,125.14 145.64,125.14 147.07,125.14 148.5,125.14 149.93,125.14 151.35,125.14 152.78,125.14 154.21,125.14 155.64,125.14 157.06,125.14 158.49,125.14 159.92,125.14 161.35,125.14 162.77,125.14 164.2,125.14 165.63,125.14 167.06,125.14 168.48,125.14 169.91,125.14 171.34,125.14 172.77,125.14 174.19,125.14 175.62,125.14 177.05,125.14 178.48,125.14 179.9,125.14 181.33,125.14 182.76,125.14 184.19,125.14 185.61,125.14 187.04,125.14 188.47,125.14 189.9,125.14 191.32,125.14 192.75,125.14 194.18,125.14 195.61,125.14 197.03,125.14 198.46,125.14 199.89,125.14 201.32,125.14 202.74,125.14 204.17,125.14 205.6,125.14 207.03,125.14 208.45,125.14 209.88,125.14 211.31,125.14 212.74,125.14 214.16,125.14 215.59,125.14 217.02,125.14 218.45,125.14 219.87,125.14 221.3,125.14 222.73,125.14 224.16,125.14 225.58,125.14 227.01,125.14 228.44,125.14 229.87,125.14 231.29,125.14 232.72,125.14 234.15,125.14 235.58,125.14 237,125.14 238.43,125.14 239.86,125.14 241.29,125.14 242.71,125.14 244.14,125.14 245.57,125.14 247,125.14 248.42,125.14 249.85,125.14 251.28,125.14 252.71,125.14 254.13,125.14 255.56,125.14 256.99,125.14 258.42,125.14 259.84,125.14 261.27,125.14 262.7,125.14 264.13,125.14 265.56,125.14 266.98,125.14 268.41,125.14 269.84,125.14 271.26,125.14 272.69,125.14 274.12,125.14 275.55,125.14 276.97,125.14 278.4,125.14 279.83,125.14 281.26,125.14 282.68,125.14 284.11,125.14 285.54,125.14 286.97,125.14 288.39,125.14 289.82,125.14 291.25,125.14 292.68,125.14 294.1,125.14 295.53,125.14 296.96,125.14 298.39,125.14 299.81,125.14 301.24,125.14 302.67,125.14 304.1,125.14 305.52,125.14 306.95,125.14 308.38,125.14 309.81,125.14 311.24,125.14 312.66,125.14 314.09,125.14 315.52,125.14 316.94,125.14 318.37,125.14 319.8,125.14 321.23,125.14 322.65,125.14 324.08,125.14 325.51,125.14 326.94,125.14 328.36,125.14 329.79,125.14 331.22,125.14 332.65,125.14 334.07,125.14 335.5,125.14 336.93,125.14 338.36,125.14 339.79,125.14 341.21,125.14 342.64,125.14 344.07,125.14 345.5,125.14 346.92,125.14 348.35,125.14 349.78,125.14 351.2,125.14 352.63,125.14 354.06,125.14 355.49,125.14 356.91,125.14 358.34,125.14 359.77,125.14 361.2,125.14 362.62,125.14 364.05,125.14 365.48,125.14 366.91,125.14 368.33,125.14 369.76,125.14 371.19,125.14 372.62,125.14 374.05,125.14 375.47,125.14 376.9,125.14"/>
<path d="M34.3 9.75H376.9M34.3 327.3H376.9" stroke="#000" stroke-width="1.4" fill="none" stroke-linecap="square"/>
<path d="M34.3 9.75V327.3M376.9 9.75V327.3" stroke="#000" stroke-width="1.7" fill="none" stroke-linecap="square"/>
<g font-family="'Liberation Sans', sans-serif" font-size="15.4" fill="#000" stroke="#000" stroke-width="0.2">
<text transform="translate(33.9 346.8) scale(1.05 1)" text-anchor="middle">-30</text>
<text transform="translate(91 346.8) scale(1.05 1)" text-anchor="middle">-20</text>
<text transform="translate(148.1 346.8) scale(1.05 1)" text-anchor="middle">-10</text>
<text transform="translate(205.9 346.8) scale(1.05 1)" text-anchor="middle">0</text>
<text transform="translate(263.7 346.8) scale(1.05 1)" text-anchor="middle">10</text>
<text transform="translate(320.8 346.8) scale(1.05 1)" text-anchor="middle">20</text>
<text transform="translate(377.9 346.8) scale(1.05 1)" text-anchor="middle">30</text>
<text transform="translate(16.5 331.7) scale(1.06 1)" text-anchor="middle">0</text>
<text transform="translate(16.5 268.19) scale(1.06 1)" text-anchor="middle">0.2</text>
<text transform="translate(16.5 204.68) scale(1.06 1)" text-anchor="middle">0.4</text>
<text transform="translate(16.5 141.17) scale(1.06 1)" text-anchor="middle">0.6</text>
<text transform="translate(16.5 77.66) scale(1.06 1)" text-anchor="middle">0.8</text>
<text transform="translate(16.5 14.15) scale(1.06 1)" text-anchor="middle">1</text>
</g>
</g>
<g id="plot-b">
<line x1="208.65" y1="374.8" x2="208.65" y2="691.7" stroke="#000" stroke-width="0.9" stroke-dasharray="4 4.04"/>
<path d="M37.3 691.7v-4.3 M37.3 374.8v4.3 M94.42 691.7v-4.3 M94.42 374.8v4.3 M151.53 691.7v-4.3 M151.53 374.8v4.3 M208.65 691.7v-4.3 M208.65 374.8v4.3 M265.77 691.7v-4.3 M265.77 374.8v4.3 M322.88 691.7v-4.3 M322.88 374.8v4.3 M380 691.7v-4.3 M380 374.8v4.3" stroke="#000" stroke-width="1.15" fill="none"/>
<path d="M37.3 691.7h4.7 M380 691.7h-4.7 M37.3 660.01h4.7 M380 660.01h-4.7 M37.3 628.32h4.7 M380 628.32h-4.7 M37.3 596.63h4.7 M380 596.63h-4.7 M37.3 564.94h4.7 M380 564.94h-4.7 M37.3 533.25h4.7 M380 533.25h-4.7 M37.3 501.56h4.7 M380 501.56h-4.7 M37.3 469.87h4.7 M380 469.87h-4.7 M37.3 438.18h4.7 M380 438.18h-4.7 M37.3 406.49h4.7 M380 406.49h-4.7 M37.3 374.8h4.7 M380 374.8h-4.7" stroke="#000" stroke-width="1" fill="none"/>
<polyline fill="none" stroke="#9400D3" stroke-width="1.8" stroke-linejoin="round" marker-start="url(#m-violet)" marker-mid="url(#m-violet)" marker-end="url(#m-violet)" points="37.3,589.98 38.73,589.96 40.16,589.93 41.58,589.9 43.01,589.87 44.44,589.83 45.87,589.78 47.3,589.74 48.72,589.68 50.15,589.63 51.58,589.57 53.01,589.5 54.44,589.43 55.86,589.36 57.29,589.29 58.72,589.21 60.15,589.12 61.57,589.04 63,588.95 64.43,588.86 65.86,588.76 67.29,588.66 68.71,588.56 70.14,588.46 71.57,588.35 73,588.24 74.43,588.13 75.85,588.02 77.28,587.9 78.71,587.78 80.14,587.66 81.57,587.54 82.99,587.42 84.42,587.3 85.85,587.17 87.28,587.04 88.7,586.91 90.13,586.78 91.56,586.65 92.99,586.52 94.42,586.39 95.84,586.26 97.27,586.12 98.7,585.99 100.13,585.86 101.56,585.72 102.98,585.56 104.41,585.4 105.84,585.23 107.27,585.05 108.7,584.86 110.12,584.67 111.55,584.46 112.98,584.25 114.41,584.03 115.84,583.8 117.26,583.57 118.69,583.33 120.12,583.07 121.55,582.79 122.97,582.5 124.4,582.19 125.83,581.87 127.26,581.55 128.69,581.22 130.11,580.89 131.54,580.57 132.97,580.25 134.4,579.93 135.83,579.62 137.25,579.3 138.68,578.99 140.11,578.67 141.54,578.34 142.97,578 144.39,577.65 145.82,577.29 147.25,576.9 148.68,576.51 150.11,576.1 151.53,575.69 152.96,575.27 154.39,574.82 155.82,574.35 157.25,573.86 158.67,573.33 160.1,572.76 161.53,572.14 162.96,571.48 164.38,570.7 165.81,569.81 167.24,568.83 168.67,567.75 170.1,566.6 171.52,565.3 172.95,563.83 174.38,562.24 175.81,560.55 177.24,558.81 178.66,556.99 180.09,555.02 181.52,552.83 182.95,550.36 184.38,547.55 185.8,544.32 187.23,540.56 188.66,536.16 190.09,530.59 191.51,523.28 192.94,514.98 194.37,505.13 195.8,493.95 197.23,481.66 198.65,469.1 200.08,454.61 201.51,440.08 202.94,427.45 204.37,418.13 205.79,411.49 207.22,407.91 208.65,406.24 210.08,407.02 211.51,408.84 212.93,410.88 214.36,412.77 215.79,414.89 217.22,417.01 218.65,418.85 220.07,420.41 221.5,421.82 222.93,423.09 224.36,424.18 225.79,425.16 227.21,426.03 228.64,426.77 230.07,427.38 231.5,427.9 232.92,428.41 234.35,428.97 235.78,429.58 237.21,430.23 238.64,430.89 240.06,431.54 241.49,432.18 242.92,432.78 244.35,433.33 245.78,433.82 247.2,434.26 248.63,434.68 250.06,435.09 251.49,435.47 252.92,435.83 254.34,436.17 255.77,436.48 257.2,436.76 258.63,437.01 260.06,437.25 261.48,437.48 262.91,437.71 264.34,437.92 265.77,438.13 267.19,438.33 268.62,438.53 270.05,438.71 271.48,438.89 272.91,439.05 274.33,439.21 275.76,439.36 277.19,439.51 278.62,439.64 280.05,439.76 281.47,439.88 282.9,439.99 284.33,440.09 285.76,440.18 287.19,440.27 288.61,440.36 290.04,440.44 291.47,440.52 292.9,440.6 294.32,440.67 295.75,440.74 297.18,440.8 298.61,440.87 300.04,440.93 301.46,440.99 302.89,441.05 304.32,441.11 305.75,441.16 307.18,441.22 308.6,441.28 310.03,441.33 311.46,441.38 312.89,441.43 314.32,441.48 315.74,441.53 317.17,441.58 318.6,441.62 320.03,441.66 321.46,441.71 322.88,441.75 324.31,441.79 325.74,441.83 327.17,441.88 328.59,441.92 330.02,441.96 331.45,442 332.88,442.04 334.31,442.08 335.73,442.12 337.16,442.16 338.59,442.2 340.02,442.24 341.45,442.28 342.87,442.32 344.3,442.36 345.73,442.4 347.16,442.44 348.59,442.48 350.01,442.52 351.44,442.56 352.87,442.59 354.3,442.63 355.73,442.67 357.15,442.71 358.58,442.74 360.01,442.78 361.44,442.81 362.87,442.85 364.29,442.89 365.72,442.92 367.15,442.96 368.58,442.99 370,443.02 371.43,443.06 372.86,443.09 374.29,443.12 375.72,443.16 377.14,443.19 378.57,443.22 380,443.25"/>
<polyline fill="none" stroke="#009E73" stroke-width="1.8" stroke-linejoin="round" marker-start="url(#m-green)" marker-mid="url(#m-green)" marker-end="url(#m-green)" points="37.3,596.63 38.73,596.63 40.16,596.63 41.58,596.63 43.01,596.63 44.44,596.63 45.87,596.63 47.3,596.63 48.72,596.63 50.15,596.63 51.58,596.63 53.01,596.63 54.44,596.63 55.86,596.62 57.29,596.62 58.72,596.62 60.15,596.62 61.57,596.62 63,596.62 64.43,596.62 65.86,596.62 67.29,596.61 68.71,596.61 70.14,596.61 71.57,596.61 73,596.61 74.43,596.61 75.85,596.6 77.28,596.6 78.71,596.6 80.14,596.6 81.57,596.59 82.99,596.59 84.42,596.59 85.85,596.59 87.28,596.58 88.7,596.58 90.13,596.58 91.56,596.57 92.99,596.57 94.42,596.57 95.84,596.56 97.27,596.56 98.7,596.55 100.13,596.55 101.56,596.55 102.98,596.54 104.41,596.54 105.84,596.53 107.27,596.53 108.7,596.52 110.12,596.52 111.55,596.51 112.98,596.51 114.41,596.5 115.84,596.5 117.26,596.49 118.69,596.49 120.12,596.48 121.55,596.48 122.97,596.47 124.4,596.46 125.83,596.46 127.26,596.45 128.69,596.44 130.11,596.44 131.54,596.43 132.97,596.42 134.4,596.41 135.83,596.41 137.25,596.4 138.68,596.39 140.11,596.38 141.54,596.37 142.97,596.37 144.39,596.36 145.82,596.35 147.25,596.34 148.68,596.33 150.11,596.32 151.53,596.31 152.96,596.3 154.39,596.28 155.82,596.24 157.25,596.2 158.67,596.15 160.1,596.09 161.53,596.02 162.96,595.95 164.38,595.86 165.81,595.77 167.24,595.67 168.67,595.56 170.1,595.44 171.52,595.32 172.95,595.18 174.38,595.05 175.81,594.87 177.24,594.63 178.66,594.32 180.09,593.95 181.52,593.52 182.95,593.03 184.38,592.48 185.8,591.88 187.23,591.04 188.66,589.89 190.09,588.54 191.51,587.12 192.94,585.47 194.37,583.62 195.8,581.99 197.23,580.71 198.65,579.51 200.08,578.81 201.51,579.13 202.94,580.69 204.37,582.86 205.79,586.53 207.22,591.36 208.65,597.94 210.08,602.33 211.51,605.54 212.93,608.15 214.36,610.36 215.79,612.28 217.22,613.9 218.65,615.26 220.07,616.43 221.5,617.43 222.93,618.27 224.36,618.98 225.79,619.61 227.21,620.18 228.64,620.71 230.07,621.22 231.5,621.7 232.92,622.15 234.35,622.59 235.78,623.02 237.21,623.44 238.64,623.87 240.06,624.29 241.49,624.69 242.92,625.09 244.35,625.47 245.78,625.84 247.2,626.18 248.63,626.51 250.06,626.82 251.49,627.12 252.92,627.42 254.34,627.7 255.77,627.97 257.2,628.22 258.63,628.45 260.06,628.66 261.48,628.85 262.91,629.03 264.34,629.2 265.77,629.37 267.19,629.53 268.62,629.68 270.05,629.83 271.48,629.97 272.91,630.11 274.33,630.24 275.76,630.36 277.19,630.48 278.62,630.6 280.05,630.71 281.47,630.82 282.9,630.93 284.33,631.03 285.76,631.13 287.19,631.23 288.61,631.33 290.04,631.42 291.47,631.51 292.9,631.59 294.32,631.68 295.75,631.76 297.18,631.84 298.61,631.92 300.04,631.99 301.46,632.07 302.89,632.14 304.32,632.2 305.75,632.27 307.18,632.33 308.6,632.39 310.03,632.45 311.46,632.51 312.89,632.56 314.32,632.61 315.74,632.67 317.17,632.72 318.6,632.77 320.03,632.81 321.46,632.86 322.88,632.91 324.31,632.95 325.74,633 327.17,633.04 328.59,633.08 330.02,633.12 331.45,633.16 332.88,633.2 334.31,633.24 335.73,633.28 337.16,633.32 338.59,633.36 340.02,633.4 341.45,633.44 342.87,633.47 344.3,633.51 345.73,633.55 347.16,633.59 348.59,633.62 350.01,633.66 351.44,633.7 352.87,633.73 354.3,633.77 355.73,633.8 357.15,633.84 358.58,633.87 360.01,633.91 361.44,633.94 362.87,633.98 364.29,634.01 365.72,634.04 367.15,634.07 368.58,634.1 370,634.14 371.43,634.17 372.86,634.2 374.29,634.23 375.72,634.26 377.14,634.28 378.57,634.31 380,634.34"/>
<polyline fill="none" stroke="#56B4E9" stroke-width="1.8" stroke-linejoin="round" marker-start="url(#m-lblue)" marker-mid="url(#m-lblue)" marker-end="url(#m-lblue)" points="37.3,596.63 38.73,596.63 40.16,596.63 41.58,596.63 43.01,596.63 44.44,596.63 45.87,596.63 47.3,596.63 48.72,596.63 50.15,596.62 51.58,596.62 53.01,596.62 54.44,596.62 55.86,596.62 57.29,596.62 58.72,596.61 60.15,596.61 61.57,596.61 63,596.61 64.43,596.6 65.86,596.6 67.29,596.6 68.71,596.6 70.14,596.59 71.57,596.59 73,596.58 74.43,596.58 75.85,596.58 77.28,596.57 78.71,596.57 80.14,596.56 81.57,596.56 82.99,596.55 84.42,596.55 85.85,596.54 87.28,596.53 88.7,596.53 90.13,596.52 91.56,596.52 92.99,596.51 94.42,596.5 95.84,596.49 97.27,596.49 98.7,596.48 100.13,596.47 101.56,596.46 102.98,596.45 104.41,596.45 105.84,596.44 107.27,596.43 108.7,596.42 110.12,596.41 111.55,596.4 112.98,596.39 114.41,596.38 115.84,596.37 117.26,596.36 118.69,596.34 120.12,596.33 121.55,596.32 122.97,596.31 124.4,596.3 125.83,596.28 127.26,596.27 128.69,596.26 130.11,596.24 131.54,596.23 132.97,596.21 134.4,596.2 135.83,596.18 137.25,596.17 138.68,596.15 140.11,596.14 141.54,596.12 142.97,596.1 144.39,596.09 145.82,596.07 147.25,596.05 148.68,596.03 150.11,596.01 151.53,596 152.96,595.97 154.39,595.92 155.82,595.85 157.25,595.76 158.67,595.65 160.1,595.52 161.53,595.38 162.96,595.22 164.38,595.05 165.81,594.86 167.24,594.66 168.67,594.44 170.1,594.21 171.52,593.97 172.95,593.72 174.38,593.46 175.81,593.15 177.24,592.76 178.66,592.29 180.09,591.72 181.52,591.05 182.95,590.29 184.38,589.25 185.8,587.82 187.23,586.1 188.66,584.19 190.09,582.05 191.51,579.49 192.94,576.48 194.37,573.01 195.8,568.99 197.23,563.75 198.65,555.78 200.08,541.88 201.51,527.01 202.94,513.61 204.37,499.4 205.79,485.08 207.22,473.88 208.65,462.1 210.08,452.9 211.51,446.69 212.93,442.45 214.36,439.35 215.79,436.85 217.22,434.89 218.65,433.42 220.07,432.2 221.5,431.2 222.93,430.35 224.36,429.64 225.79,429.02 227.21,428.48 228.64,428 230.07,427.57 231.5,427.18 232.92,426.8 234.35,426.41 235.78,426.01 237.21,425.6 238.64,425.19 240.06,424.81 241.49,424.46 242.92,424.16 244.35,423.91 245.78,423.74 247.2,423.59 248.63,423.46 250.06,423.33 251.49,423.21 252.92,423.1 254.34,423 255.77,422.9 257.2,422.82 258.63,422.74 260.06,422.68 261.48,422.62 262.91,422.56 264.34,422.52 265.77,422.49 267.19,422.46 268.62,422.43 270.05,422.4 271.48,422.37 272.91,422.34 274.33,422.32 275.76,422.29 277.19,422.27 278.62,422.24 280.05,422.22 281.47,422.19 282.9,422.17 284.33,422.15 285.76,422.13 287.19,422.11 288.61,422.09 290.04,422.07 291.47,422.05 292.9,422.03 294.32,422.01 295.75,422 297.18,421.98 298.61,421.97 300.04,421.95 301.46,421.94 302.89,421.92 304.32,421.91 305.75,421.9 307.18,421.89 308.6,421.87 310.03,421.86 311.46,421.85 312.89,421.84 314.32,421.83 315.74,421.83 317.17,421.82 318.6,421.81 320.03,421.8 321.46,421.8 322.88,421.79 324.31,421.78 325.74,421.78 327.17,421.77 328.59,421.77 330.02,421.77 331.45,421.76 332.88,421.76 334.31,421.76 335.73,421.75 337.16,421.75 338.59,421.75 340.02,421.75 341.45,421.74 342.87,421.74 344.3,421.74 345.73,421.73 347.16,421.73 348.59,421.73 350.01,421.73 351.44,421.73 352.87,421.72 354.3,421.72 355.73,421.72 357.15,421.72 358.58,421.72 360.01,421.71 361.44,421.71 362.87,421.71 364.29,421.71 365.72,421.71 367.15,421.71 368.58,421.71 370,421.7 371.43,421.7 372.86,421.7 374.29,421.7 375.72,421.7 377.14,421.7 378.57,421.7 380,421.7"/>
<polyline fill="none" stroke="#E69F00" stroke-width="1.8" stroke-linejoin="round" marker-start="url(#m-orange)" marker-mid="url(#m-orange)" marker-end="url(#m-orange)" points="37.3,596.63 38.73,596.63 40.16,596.63 41.58,596.63 43.01,596.63 44.44,596.63 45.87,596.63 47.3,596.63 48.72,596.63 50.15,596.63 51.58,596.63 53.01,596.63 54.44,596.63 55.86,596.63 57.29,596.63 58.72,596.63 60.15,596.63 61.57,596.63 63,596.63 64.43,596.63 65.86,596.63 67.29,596.63 68.71,596.63 70.14,596.63 71.57,596.63 73,596.63 74.43,596.63 75.85,596.63 77.28,596.63 78.71,596.63 80.14,596.63 81.57,596.63 82.99,596.63 84.42,596.63 85.85,596.63 87.28,596.63 88.7,596.63 90.13,596.63 91.56,596.63 92.99,596.63 94.42,596.63 95.84,596.63 97.27,596.63 98.7,596.63 100.13,596.63 101.56,596.63 102.98,596.63 104.41,596.63 105.84,596.63 107.27,596.63 108.7,596.63 110.12,596.63 111.55,596.63 112.98,596.63 114.41,596.63 115.84,596.63 117.26,596.63 118.69,596.63 120.12,596.63 121.55,596.63 122.97,596.63 124.4,596.63 125.83,596.63 127.26,596.63 128.69,596.63 130.11,596.63 131.54,596.63 132.97,596.63 134.4,596.63 135.83,596.63 137.25,596.63 138.68,596.63 140.11,596.63 141.54,596.63 142.97,596.63 144.39,596.63 145.82,596.63 147.25,596.63 148.68,596.63 150.11,596.63 151.53,596.63 152.96,596.63 154.39,596.63 155.82,596.63 157.25,596.63 158.67,596.63 160.1,596.63 161.53,596.63 162.96,596.63 164.38,596.63 165.81,596.63 167.24,596.63 168.67,596.63 170.1,596.63 171.52,596.63 172.95,596.63 174.38,596.63 175.81,596.63 177.24,596.63 178.66,596.63 180.09,596.63 181.52,596.63 182.95,596.63 184.38,596.62 185.8,596.61 187.23,596.61 188.66,596.59 190.09,596.58 191.51,596.56 192.94,596.55 194.37,596.52 195.8,596.5 197.23,596.47 198.65,596.39 200.08,596.23 201.51,595.98 202.94,595.67 204.37,595.02 205.79,594.12 207.22,593.11 208.65,591.85 210.08,590.29 211.51,588.36 212.93,587.35 214.36,586.88 215.79,586.52 217.22,586.26 218.65,586.04 220.07,585.86 221.5,585.68 222.93,585.52 224.36,585.38 225.79,585.24 227.21,585.12 228.64,585.02 230.07,584.92 231.5,584.83 232.92,584.75 234.35,584.68 235.78,584.61 237.21,584.54 238.64,584.47 240.06,584.41 241.49,584.34 242.92,584.28 244.35,584.23 245.78,584.17 247.2,584.12 248.63,584.06 250.06,584.02 251.49,583.97 252.92,583.92 254.34,583.88 255.77,583.84 257.2,583.81 258.63,583.77 260.06,583.74 261.48,583.71 262.91,583.68 264.34,583.66 265.77,583.64 267.19,583.62 268.62,583.6 270.05,583.58 271.48,583.56 272.91,583.54 274.33,583.53 275.76,583.51 277.19,583.49 278.62,583.48 280.05,583.46 281.47,583.45 282.9,583.43 284.33,583.42 285.76,583.4 287.19,583.39 288.61,583.38 290.04,583.36 291.47,583.35 292.9,583.34 294.32,583.33 295.75,583.32 297.18,583.31 298.61,583.3 300.04,583.29 301.46,583.28 302.89,583.27 304.32,583.26 305.75,583.25 307.18,583.24 308.6,583.23 310.03,583.22 311.46,583.22 312.89,583.21 314.32,583.2 315.74,583.19 317.17,583.19 318.6,583.18 320.03,583.17 321.46,583.17 322.88,583.16 324.31,583.16 325.74,583.15 327.17,583.14 328.59,583.14 330.02,583.13 331.45,583.13 332.88,583.12 334.31,583.11 335.73,583.11 337.16,583.1 338.59,583.1 340.02,583.09 341.45,583.09 342.87,583.08 344.3,583.08 345.73,583.07 347.16,583.07 348.59,583.06 350.01,583.06 351.44,583.05 352.87,583.05 354.3,583.04 355.73,583.04 357.15,583.04 358.58,583.03 360.01,583.03 361.44,583.03 362.87,583.02 364.29,583.02 365.72,583.02 367.15,583.01 368.58,583.01 370,583.01 371.43,583.01 372.86,583.01 374.29,583.01 375.72,583 377.14,583 378.57,583 380,583"/>
<polyline fill="none" stroke="#F0E442" stroke-width="1.8" stroke-linejoin="round" marker-start="url(#m-yellow)" marker-mid="url(#m-yellow)" marker-end="url(#m-yellow)" points="37.3,596.63 38.73,596.63 40.16,596.63 41.58,596.63 43.01,596.63 44.44,596.63 45.87,596.63 47.3,596.63 48.72,596.63 50.15,596.63 51.58,596.63 53.01,596.63 54.44,596.63 55.86,596.63 57.29,596.63 58.72,596.63 60.15,596.63 61.57,596.63 63,596.63 64.43,596.63 65.86,596.63 67.29,596.63 68.71,596.63 70.14,596.63 71.57,596.63 73,596.63 74.43,596.63 75.85,596.63 77.28,596.63 78.71,596.63 80.14,596.63 81.57,596.63 82.99,596.63 84.42,596.63 85.85,596.63 87.28,596.63 88.7,596.63 90.13,596.63 91.56,596.63 92.99,596.63 94.42,596.63 95.84,596.63 97.27,596.63 98.7,596.63 100.13,596.63 101.56,596.63 102.98,596.63 104.41,596.63 105.84,596.63 107.27,596.63 108.7,596.63 110.12,596.63 111.55,596.63 112.98,596.63 114.41,596.63 115.84,596.63 117.26,596.63 118.69,596.63 120.12,596.63 121.55,596.63 122.97,596.63 124.4,596.63 125.83,596.63 127.26,596.63 128.69,596.63 130.11,596.63 131.54,596.63 132.97,596.63 134.4,596.63 135.83,596.63 137.25,596.63 138.68,596.63 140.11,596.63 141.54,596.63 142.97,596.63 144.39,596.63 145.82,596.63 147.25,596.63 148.68,596.63 150.11,596.63 151.53,596.63 152.96,596.63 154.39,596.63 155.82,596.62 157.25,596.62 158.67,596.61 160.1,596.6 161.53,596.59 162.96,596.58 164.38,596.57 165.81,596.56 167.24,596.54 168.67,596.52 170.1,596.5 171.52,596.48 172.95,596.46 174.38,596.43 175.81,596.41 177.24,596.38 178.66,596.35 180.09,596.31 181.52,596.25 182.95,596.12 184.38,595.93 185.8,595.71 187.23,595.45 188.66,595.16 190.09,594.85 191.51,594.54 192.94,594.21 194.37,593.82 195.8,593.33 197.23,592.69 198.65,591.69 200.08,590.02 201.51,587.92 202.94,585.56 204.37,582.4 205.79,579.2 207.22,576.42 208.65,574.05 210.08,572.19 211.51,570.67 212.93,569.85 214.36,569.37 215.79,568.98 217.22,568.68 218.65,568.45 220.07,568.27 221.5,568.11 222.93,567.96 224.36,567.83 225.79,567.71 227.21,567.6 228.64,567.51 230.07,567.43 231.5,567.37 232.92,567.32 234.35,567.28 235.78,567.25 237.21,567.21 238.64,567.18 240.06,567.14 241.49,567.11 242.92,567.08 244.35,567.06 245.78,567.03 247.2,567 248.63,566.98 250.06,566.96 251.49,566.94 252.92,566.92 254.34,566.91 255.77,566.89 257.2,566.88 258.63,566.87 260.06,566.86 261.48,566.85 262.91,566.85 264.34,566.84 265.77,566.84 267.19,566.84 268.62,566.84 270.05,566.84 271.48,566.84 272.91,566.84 274.33,566.84 275.76,566.84 277.19,566.84 278.62,566.84 280.05,566.84 281.47,566.84 282.9,566.84 284.33,566.84 285.76,566.84 287.19,566.84 288.61,566.84 290.04,566.84 291.47,566.84 292.9,566.84 294.32,566.84 295.75,566.84 297.18,566.84 298.61,566.84 300.04,566.84 301.46,566.84 302.89,566.84 304.32,566.84 305.75,566.84 307.18,566.84 308.6,566.84 310.03,566.84 311.46,566.84 312.89,566.84 314.32,566.84 315.74,566.84 317.17,566.84 318.6,566.84 320.03,566.84 321.46,566.84 322.88,566.84 324.31,566.84 325.74,566.84 327.17,566.84 328.59,566.84 330.02,566.84 331.45,566.84 332.88,566.84 334.31,566.84 335.73,566.84 337.16,566.84 338.59,566.84 340.02,566.84 341.45,566.84 342.87,566.84 344.3,566.84 345.73,566.84 347.16,566.84 348.59,566.84 350.01,566.84 351.44,566.84 352.87,566.84 354.3,566.84 355.73,566.84 357.15,566.84 358.58,566.84 360.01,566.84 361.44,566.84 362.87,566.84 364.29,566.84 365.72,566.84 367.15,566.84 368.58,566.84 370,566.84 371.43,566.84 372.86,566.84 374.29,566.84 375.72,566.84 377.14,566.84 378.57,566.84 380,566.84"/>
<polyline fill="none" stroke="#0072B2" stroke-width="1.8" stroke-linejoin="round" marker-start="url(#m-dblue)" marker-mid="url(#m-dblue)" marker-end="url(#m-dblue)" points="37.3,596.31 38.73,596.31 40.16,596.31 41.58,596.31 43.01,596.31 44.44,596.31 45.87,596.31 47.3,596.3 48.72,596.3 50.15,596.3 51.58,596.29 53.01,596.29 54.44,596.28 55.86,596.28 57.29,596.27 58.72,596.27 60.15,596.26 61.57,596.26 63,596.25 64.43,596.24 65.86,596.24 67.29,596.23 68.71,596.22 70.14,596.21 71.57,596.2 73,596.19 74.43,596.18 75.85,596.17 77.28,596.16 78.71,596.15 80.14,596.14 81.57,596.13 82.99,596.12 84.42,596.11 85.85,596.1 87.28,596.08 88.7,596.07 90.13,596.06 91.56,596.04 92.99,596.03 94.42,596.02 95.84,596 97.27,595.99 98.7,595.97 100.13,595.96 101.56,595.94 102.98,595.93 104.41,595.91 105.84,595.89 107.27,595.88 108.7,595.86 110.12,595.84 111.55,595.83 112.98,595.81 114.41,595.79 115.84,595.77 117.26,595.76 118.69,595.74 120.12,595.72 121.55,595.7 122.97,595.68 124.4,595.66 125.83,595.64 127.26,595.61 128.69,595.59 130.11,595.56 131.54,595.53 132.97,595.49 134.4,595.46 135.83,595.42 137.25,595.38 138.68,595.33 140.11,595.28 141.54,595.23 142.97,595.18 144.39,595.12 145.82,595.06 147.25,595 148.68,594.93 150.11,594.86 151.53,594.79 152.96,594.71 154.39,594.62 155.82,594.54 157.25,594.45 158.67,594.35 160.1,594.25 161.53,594.13 162.96,593.96 164.38,593.76 165.81,593.52 167.24,593.25 168.67,592.95 170.1,592.62 171.52,592.27 172.95,591.9 174.38,591.46 175.81,590.95 177.24,590.36 178.66,589.7 180.09,588.96 181.52,588.14 182.95,587.24 184.38,586.09 185.8,584.71 187.23,583.14 188.66,581.47 190.09,579.64 191.51,577.56 192.94,575.27 194.37,572.76 195.8,569.74 197.23,566.85 198.65,564.36 200.08,562.07 201.51,561.35 202.94,564.55 204.37,569.79 205.79,577.52 207.22,586.48 208.65,596.46 210.08,604.92 211.51,612.56 212.93,619.32 214.36,625.15 215.79,629.83 217.22,633.77 218.65,637.14 220.07,640.06 221.5,642.65 222.93,644.97 224.36,647.08 225.79,649.07 227.21,650.86 228.64,652.37 230.07,653.57 231.5,654.57 232.92,655.5 234.35,656.43 235.78,657.33 237.21,658.2 238.64,659.02 240.06,659.78 241.49,660.49 242.92,661.17 244.35,661.82 245.78,662.42 247.2,662.96 248.63,663.42 250.06,663.84 251.49,664.22 252.92,664.58 254.34,664.91 255.77,665.23 257.2,665.53 258.63,665.83 260.06,666.13 261.48,666.42 262.91,666.69 264.34,666.96 265.77,667.22 267.19,667.46 268.62,667.7 270.05,667.92 271.48,668.13 272.91,668.33 274.33,668.53 275.76,668.72 277.19,668.9 278.62,669.07 280.05,669.23 281.47,669.38 282.9,669.52 284.33,669.65 285.76,669.77 287.19,669.89 288.61,670 290.04,670.11 291.47,670.21 292.9,670.31 294.32,670.41 295.75,670.5 297.18,670.6 298.61,670.69 300.04,670.78 301.46,670.86 302.89,670.95 304.32,671.04 305.75,671.12 307.18,671.21 308.6,671.29 310.03,671.38 311.46,671.47 312.89,671.55 314.32,671.64 315.74,671.72 317.17,671.81 318.6,671.89 320.03,671.97 321.46,672.05 322.88,672.12 324.31,672.2 325.74,672.27 327.17,672.34 328.59,672.4 330.02,672.46 331.45,672.52 332.88,672.57 334.31,672.63 335.73,672.69 337.16,672.74 338.59,672.8 340.02,672.85 341.45,672.9 342.87,672.96 344.3,673.01 345.73,673.06 347.16,673.11 348.59,673.16 350.01,673.21 351.44,673.26 352.87,673.31 354.3,673.35 355.73,673.4 357.15,673.44 358.58,673.48 360.01,673.53 361.44,673.57 362.87,673.61 364.29,673.64 365.72,673.68 367.15,673.71 368.58,673.75 370,673.78 371.43,673.81 372.86,673.84 374.29,673.86 375.72,673.89 377.14,673.91 378.57,673.93 380,673.95"/>
<polyline fill="none" stroke="#E51E10" stroke-width="1.8" stroke-linejoin="round" marker-start="url(#m-red)" marker-mid="url(#m-red)" marker-end="url(#m-red)" points="37.3,596.63 38.73,596.63 40.16,596.63 41.58,596.63 43.01,596.63 44.44,596.64 45.87,596.64 47.3,596.64 48.72,596.65 50.15,596.65 51.58,596.65 53.01,596.66 54.44,596.66 55.86,596.67 57.29,596.68 58.72,596.68 60.15,596.69 61.57,596.7 63,596.7 64.43,596.71 65.86,596.72 67.29,596.73 68.71,596.74 70.14,596.75 71.57,596.76 73,596.77 74.43,596.78 75.85,596.79 77.28,596.8 78.71,596.81 80.14,596.82 81.57,596.83 82.99,596.84 84.42,596.86 85.85,596.87 87.28,596.88 88.7,596.89 90.13,596.91 91.56,596.92 92.99,596.93 94.42,596.95 95.84,596.96 97.27,596.98 98.7,597 100.13,597.02 101.56,597.04 102.98,597.06 104.41,597.09 105.84,597.11 107.27,597.14 108.7,597.17 110.12,597.2 111.55,597.24 112.98,597.27 114.41,597.31 115.84,597.34 117.26,597.38 118.69,597.42 120.12,597.47 121.55,597.51 122.97,597.56 124.4,597.6 125.83,597.65 127.26,597.7 128.69,597.75 130.11,597.8 131.54,597.85 132.97,597.91 134.4,597.97 135.83,598.05 137.25,598.13 138.68,598.23 140.11,598.33 141.54,598.43 142.97,598.53 144.39,598.64 145.82,598.74 147.25,598.83 148.68,598.92 150.11,599 151.53,599.08 152.96,599.15 154.39,599.23 155.82,599.31 157.25,599.39 158.67,599.48 160.1,599.57 161.53,599.68 162.96,599.8 164.38,599.93 165.81,600.08 167.24,600.24 168.67,600.42 170.1,600.62 171.52,600.84 172.95,601.09 174.38,601.36 175.81,601.66 177.24,602.02 178.66,602.49 180.09,603.06 181.52,603.72 182.95,604.45 184.38,605.32 185.8,606.37 187.23,607.62 188.66,609.11 190.09,611.05 191.51,613.66 192.94,616.77 194.37,620.32 195.8,624.87 197.23,629.95 198.65,635.2 200.08,640.79 201.51,646.8 202.94,652.26 204.37,655.34 205.79,657.3 207.22,657.2 208.65,656.05 210.08,654.79 211.51,653.73 212.93,652.64 214.36,651.6 215.79,650.66 217.22,649.78 218.65,648.94 220.07,648.14 221.5,647.37 222.93,646.61 224.36,645.87 225.79,645.16 227.21,644.48 228.64,643.85 230.07,643.25 231.5,642.68 232.92,642.15 234.35,641.66 235.78,641.23 237.21,640.84 238.64,640.48 240.06,640.14 241.49,639.81 242.92,639.51 244.35,639.21 245.78,638.93 247.2,638.66 248.63,638.39 250.06,638.12 251.49,637.86 252.92,637.61 254.34,637.36 255.77,637.13 257.2,636.9 258.63,636.69 260.06,636.49 261.48,636.31 262.91,636.14 264.34,635.96 265.77,635.79 267.19,635.63 268.62,635.47 270.05,635.31 271.48,635.16 272.91,635.01 274.33,634.87 275.76,634.73 277.19,634.6 278.62,634.47 280.05,634.35 281.47,634.24 282.9,634.13 284.33,634.03 285.76,633.93 287.19,633.84 288.61,633.76 290.04,633.68 291.47,633.6 292.9,633.53 294.32,633.45 295.75,633.39 297.18,633.32 298.61,633.26 300.04,633.19 301.46,633.13 302.89,633.08 304.32,633.02 305.75,632.97 307.18,632.91 308.6,632.86 310.03,632.81 311.46,632.76 312.89,632.71 314.32,632.66 315.74,632.61 317.17,632.56 318.6,632.52 320.03,632.47 321.46,632.43 322.88,632.38 324.31,632.34 325.74,632.29 327.17,632.25 328.59,632.21 330.02,632.17 331.45,632.13 332.88,632.1 334.31,632.06 335.73,632.02 337.16,631.99 338.59,631.95 340.02,631.92 341.45,631.89 342.87,631.86 344.3,631.83 345.73,631.81 347.16,631.78 348.59,631.75 350.01,631.73 351.44,631.7 352.87,631.68 354.3,631.65 355.73,631.63 357.15,631.61 358.58,631.58 360.01,631.56 361.44,631.54 362.87,631.52 364.29,631.5 365.72,631.48 367.15,631.46 368.58,631.44 370,631.42 371.43,631.41 372.86,631.39 374.29,631.38 375.72,631.36 377.14,631.35 378.57,631.34 380,631.33"/>
<polyline fill="none" stroke="#000000" stroke-width="1.8" stroke-linejoin="round" marker-start="url(#m-black)" marker-mid="url(#m-black)" marker-end="url(#m-black)" points="37.3,596.63 38.73,596.63 40.16,596.63 41.58,596.63 43.01,596.63 44.44,596.63 45.87,596.63 47.3,596.63 48.72,596.63 50.15,596.63 51.58,596.63 53.01,596.63 54.44,596.63 55.86,596.63 57.29,596.63 58.72,596.63 60.15,596.63 61.57,596.63 63,596.63 64.43,596.63 65.86,596.63 67.29,596.63 68.71,596.63 70.14,596.63 71.57,596.63 73,596.63 74.43,596.63 75.85,596.63 77.28,596.63 78.71,596.63 80.14,596.63 81.57,596.63 82.99,596.63 84.42,596.63 85.85,596.63 87.28,596.63 88.7,596.63 90.13,596.63 91.56,596.63 92.99,596.63 94.42,596.63 95.84,596.63 97.27,596.63 98.7,596.63 100.13,596.63 101.56,596.63 102.98,596.63 104.41,596.63 105.84,596.63 107.27,596.63 108.7,596.63 110.12,596.63 111.55,596.63 112.98,596.63 114.41,596.63 115.84,596.63 117.26,596.63 118.69,596.63 120.12,596.63 121.55,596.63 122.97,596.63 124.4,596.63 125.83,596.63 127.26,596.63 128.69,596.63 130.11,596.63 131.54,596.63 132.97,596.63 134.4,596.63 135.83,596.63 137.25,596.63 138.68,596.63 140.11,596.63 141.54,596.63 142.97,596.63 144.39,596.63 145.82,596.63 147.25,596.63 148.68,596.63 150.11,596.63 151.53,596.63 152.96,596.63 154.39,596.63 155.82,596.63 157.25,596.63 158.67,596.63 160.1,596.63 161.53,596.63 162.96,596.63 164.38,596.63 165.81,596.64 167.24,596.66 168.67,596.69 170.1,596.72 171.52,596.75 172.95,596.79 174.38,596.84 175.81,596.89 177.24,596.95 178.66,597.03 180.09,597.16 181.52,597.35 182.95,597.58 184.38,597.87 185.8,598.25 187.23,598.97 188.66,600 190.09,601.29 191.51,602.78 192.94,604.88 194.37,607.7 195.8,611.13 197.23,615.39 198.65,621.14 200.08,627.2 201.51,633.63 202.94,640.66 204.37,647.83 205.79,654.94 207.22,663.09 208.65,670.01 210.08,675.08 211.51,678.66 212.93,681.12 214.36,682.46 215.79,683.45 217.22,684.13 218.65,684.58 220.07,684.96 221.5,685.26 222.93,685.51 224.36,685.7 225.79,685.85 227.21,685.99 228.64,686.11 230.07,686.22 231.5,686.28 232.92,686.31 234.35,686.31 235.78,686.31 237.21,686.31 238.64,686.3 240.06,686.29 241.49,686.29 242.92,686.28 244.35,686.27 245.78,686.26 247.2,686.25 248.63,686.24 250.06,686.23 251.49,686.22 252.92,686.21 254.34,686.2 255.77,686.19 257.2,686.18 258.63,686.17 260.06,686.17 261.48,686.16 262.91,686.16 264.34,686.16 265.77,686.15 267.19,686.15 268.62,686.15 270.05,686.15 271.48,686.15 272.91,686.15 274.33,686.15 275.76,686.15 277.19,686.15 278.62,686.15 280.05,686.15 281.47,686.15 282.9,686.15 284.33,686.15 285.76,686.15 287.19,686.15 288.61,686.15 290.04,686.15 291.47,686.15 292.9,686.15 294.32,686.15 295.75,686.15 297.18,686.15 298.61,686.15 300.04,686.15 301.46,686.15 302.89,686.15 304.32,686.15 305.75,686.15 307.18,686.15 308.6,686.15 310.03,686.15 311.46,686.15 312.89,686.15 314.32,686.15 315.74,686.15 317.17,686.15 318.6,686.15 320.03,686.15 321.46,686.15 322.88,686.15 324.31,686.15 325.74,686.15 327.17,686.15 328.59,686.15 330.02,686.15 331.45,686.15 332.88,686.15 334.31,686.15 335.73,686.15 337.16,686.15 338.59,686.15 340.02,686.15 341.45,686.15 342.87,686.15 344.3,686.15 345.73,686.15 347.16,686.15 348.59,686.15 350.01,686.15 351.44,686.15 352.87,686.15 354.3,686.15 355.73,686.15 357.15,686.15 358.58,686.15 360.01,686.15 361.44,686.15 362.87,686.15 364.29,686.15 365.72,686.15 367.15,686.15 368.58,686.15 370,686.15 371.43,686.15 372.86,686.15 374.29,686.15 375.72,686.15 377.14,686.15 378.57,686.15 380,686.15"/>
<polyline fill="none" stroke="#9400D3" stroke-width="1.8" stroke-linejoin="round" marker-start="url(#m-violet)" marker-mid="url(#m-violet)" marker-end="url(#m-violet)" points="37.3,394.89 38.73,394.89 40.16,394.89 41.58,394.89 43.01,394.89 44.44,394.89 45.87,394.89 47.3,394.89 48.72,394.89 50.15,394.89 51.58,394.89 53.01,394.89 54.44,394.89 55.86,394.89 57.29,394.89 58.72,394.89 60.15,394.89 61.57,394.89 63,394.89 64.43,394.89 65.86,394.89 67.29,394.89 68.71,394.89 70.14,394.89 71.57,394.89 73,394.89 74.43,394.89 75.85,394.89 77.28,394.89 78.71,394.89 80.14,394.89 81.57,394.89 82.99,394.89 84.42,394.89 85.85,394.89 87.28,394.89 88.7,394.89 90.13,394.89 91.56,394.89 92.99,394.89 94.42,394.89 95.84,394.89 97.27,394.89 98.7,394.89 100.13,394.89 101.56,394.89 102.98,394.89 104.41,394.89 105.84,394.89 107.27,394.89 108.7,394.89 110.12,394.89 111.55,394.89 112.98,394.89 114.41,394.89 115.84,394.89 117.26,394.89 118.69,394.89 120.12,394.89 121.55,394.89 122.97,394.89 124.4,394.89 125.83,394.89 127.26,394.89 128.69,394.89 130.11,394.89 131.54,394.89 132.97,394.89 134.4,394.89 135.83,394.89 137.25,394.89 138.68,394.89 140.11,394.89 141.54,394.89 142.97,394.89 144.39,394.89 145.82,394.89 147.25,394.89 148.68,394.89 150.11,394.89 151.53,394.89 152.96,394.89 154.39,394.89 155.82,394.89 157.25,394.89 158.67,394.89 160.1,394.89 161.53,394.89 162.96,394.89 164.38,394.89 165.81,394.89 167.24,394.89 168.67,394.89 170.1,394.89 171.52,394.89 172.95,394.89 174.38,394.89 175.81,394.89 177.24,394.89 178.66,394.89 180.09,394.89 181.52,394.89 182.95,394.89 184.38,394.89 185.8,394.89 187.23,394.89 188.66,394.89 190.09,394.89 191.51,394.89 192.94,394.89 194.37,394.89 195.8,394.89 197.23,394.89 198.65,394.89 200.08,394.89 201.51,394.89 202.94,394.89 204.37,394.89 205.79,394.89 207.22,394.89 208.65,394.89 210.08,394.89 211.51,394.89 212.93,394.89 214.36,394.89 215.79,394.89 217.22,394.89 218.65,394.89 220.07,394.89 221.5,394.89 222.93,394.89 224.36,394.89 225.79,394.89 227.21,394.89 228.64,394.89 230.07,394.89 231.5,394.89 232.92,394.89 234.35,394.89 235.78,394.89 237.21,394.89 238.64,394.89 240.06,394.89 241.49,394.89 242.92,394.89 244.35,394.89 245.78,394.89 247.2,394.89 248.63,394.89 250.06,394.89 251.49,394.89 252.92,394.89 254.34,394.89 255.77,394.89 257.2,394.89 258.63,394.89 260.06,394.89 261.48,394.89 262.91,394.89 264.34,394.89 265.77,394.89 267.19,394.89 268.62,394.89 270.05,394.89 271.48,394.89 272.91,394.89 274.33,394.89 275.76,394.89 277.19,394.89 278.62,394.89 280.05,394.89 281.47,394.89 282.9,394.89 284.33,394.89 285.76,394.89 287.19,394.89 288.61,394.89 290.04,394.89 291.47,394.89 292.9,394.89 294.32,394.89 295.75,394.89 297.18,394.89 298.61,394.89 300.04,394.89 301.46,394.89 302.89,394.89 304.32,394.89 305.75,394.89 307.18,394.89 308.6,394.89 310.03,394.89 311.46,394.89 312.89,394.89 314.32,394.89 315.74,394.89 317.17,394.89 318.6,394.89 320.03,394.89 321.46,394.89 322.88,394.89 324.31,394.89 325.74,394.89 327.17,394.89 328.59,394.89 330.02,394.89 331.45,394.89 332.88,394.89 334.31,394.89 335.73,394.89 337.16,394.89 338.59,394.89 340.02,394.89 341.45,394.89 342.87,394.89 344.3,394.89 345.73,394.89 347.16,394.89 348.59,394.89 350.01,394.89 351.44,394.89 352.87,394.89 354.3,394.89 355.73,394.89 357.15,394.89 358.58,394.89 360.01,394.89 361.44,394.89 362.87,394.89 364.29,394.89 365.72,394.89 367.15,394.89 368.58,394.89 370,394.89 371.43,394.89 372.86,394.89 374.29,394.89 375.72,394.89 377.14,394.89 378.57,394.89 380,394.89"/>
<path d="M37.3 374.8H380M37.3 691.7H380" stroke="#000" stroke-width="1.4" fill="none" stroke-linecap="square"/>
<path d="M37.3 374.8V691.7M380 374.8V691.7" stroke="#000" stroke-width="1.7" fill="none" stroke-linecap="square"/>
<g font-family="'Liberation Sans', sans-serif" font-size="15.4" fill="#000" stroke="#000" stroke-width="0.2">
<text transform="translate(37.3 713.7) scale(1.05 1)" text-anchor="middle">-30</text>
<text transform="translate(94.42 713.7) scale(1.05 1)" text-anchor="middle">-20</text>
<text transform="translate(151.53 713.7) scale(1.05 1)" text-anchor="middle">-10</text>
<text transform="translate(209.4 713.7) scale(1.05 1)" text-anchor="middle">0</text>
<text transform="translate(268.07 713.7) scale(1.05 1)" text-anchor="middle">10</text>
<text transform="translate(325.18 713.7) scale(1.05 1)" text-anchor="middle">20</text>
<text transform="translate(382.3 713.7) scale(1.05 1)" text-anchor="middle">30</text>
<text transform="translate(29.9 697) scale(1.06 1)" text-anchor="end">-0.3</text>
<text transform="translate(29.9 633.62) scale(1.06 1)" text-anchor="end">-0.1</text>
<text transform="translate(29.9 570.24) scale(1.06 1)" text-anchor="end">0.1</text>
<text transform="translate(29.9 506.86) scale(1.06 1)" text-anchor="end">0.3</text>
<text transform="translate(29.9 443.48) scale(1.06 1)" text-anchor="end">0.5</text>
<text transform="translate(29.9 380.1) scale(1.06 1)" text-anchor="end">0.7</text>
</g>
</g>
<g id="labels" fill="#000" stroke="#000" stroke-width="0.18">
<text transform="translate(99.72 37.10) scale(0.826 1.000)" font-family="'Liberation Sans', sans-serif" font-size="17.60">constant</text>
<text transform="translate(99.85 66.10) scale(0.826 1.000)" font-family="'Liberation Sans', sans-serif" font-size="17.60">Violet</text>
<text transform="translate(105.18 96.60) scale(0.885 1.000)" font-family="'Liberation Sans', sans-serif" font-size="18.60">Green</text>
<text transform="translate(102.13 160.90) scale(0.830 1.000)" font-family="'Liberation Sans', sans-serif" font-size="17.60">Light Blue</text>
<text transform="translate(104.40 198.00) scale(0.849 1.000)" font-family="'Liberation Sans', sans-serif" font-size="17.60">Brown</text>
<text transform="translate(103.57 233.80) scale(0.807 1.000)" font-family="'Liberation Sans', sans-serif" font-size="17.60">Yellow</text>
<text transform="translate(298.83 31.90) scale(0.830 1.000)" font-family="'Liberation Sans', sans-serif" font-size="17.60">Dark Blue</text>
<text transform="translate(322.00 67.70) scale(0.851 1.000)" font-family="'Liberation Sans', sans-serif" font-size="17.60">Red</text>
<text transform="translate(329.33 103.50) scale(0.833 1.000)" font-family="'Liberation Sans', sans-serif" font-size="17.60">Black</text>
<text transform="translate(48.47 36.10) scale(1.017 1) skewX(-11)" font-family="'DejaVu Sans', sans-serif" font-size="17.92" font-weight="bold" stroke="#000" stroke-width="0.5">&#x212C;</text>
<text transform="translate(48.47 66.40) scale(1.009 1) skewX(-11)" font-family="'DejaVu Sans', sans-serif" font-size="18.05" font-weight="bold" stroke="#000" stroke-width="0.5">&#x212C;</text>
<text transform="translate(48.46 96.10) scale(1.013 1) skewX(-11)" font-family="'DejaVu Sans', sans-serif" font-size="18.31" font-weight="bold" stroke="#000" stroke-width="0.5">&#x212C;</text>
<text transform="translate(49.69 161.40) scale(0.938 1) skewX(-11)" font-family="'DejaVu Sans', sans-serif" font-size="18.96" font-weight="bold" stroke="#000" stroke-width="0.5">&#x212C;</text>
<text transform="translate(53.60 199.00) scale(0.932 1) skewX(-11)" font-family="'DejaVu Sans', sans-serif" font-size="18.83" font-weight="bold" stroke="#000" stroke-width="0.5">&#x212C;</text>
<text transform="translate(51.12 235.00) scale(0.921 1) skewX(-11)" font-family="'DejaVu Sans', sans-serif" font-size="18.57" font-weight="bold" stroke="#000" stroke-width="0.5">&#x212C;</text>
<text transform="translate(246.23 33.20) scale(1.014 1) skewX(-11)" font-family="'DejaVu Sans', sans-serif" font-size="18.96" font-weight="bold" stroke="#000" stroke-width="0.5">&#x212C;</text>
<text transform="translate(270.54 69.00) scale(1.023 1) skewX(-11)" font-family="'DejaVu Sans', sans-serif" font-size="18.57" font-weight="bold" stroke="#000" stroke-width="0.5">&#x212C;</text>
<text transform="translate(273.26 105.10) scale(0.992 1) skewX(-11)" font-family="'DejaVu Sans', sans-serif" font-size="18.70" font-weight="bold" stroke="#000" stroke-width="0.5">&#x212C;</text>
<text transform="translate(66.37 44.50) scale(0.914 1.000)" font-family="'Liberation Sans', sans-serif" font-size="14.37">0</text>
<text transform="translate(66.94 75.40) scale(0.685 1.000)" font-family="'Liberation Sans', sans-serif" font-size="13.91">1</text>
<text transform="translate(66.17 105.50) scale(0.962 1.000)" font-family="'Liberation Sans', sans-serif" font-size="15.14">2</text>
<text transform="translate(64.36 174.00) scale(0.993 1.000)" font-family="'Liberation Sans', sans-serif" font-size="13.04">1-1</text>
<text transform="translate(66.34 211.20) scale(1.208 1.000)" font-family="'Liberation Sans', sans-serif" font-size="12.57">2-2</text>
<text transform="translate(64.74 247.90) scale(1.037 1.000)" font-family="'Liberation Sans', sans-serif" font-size="12.71">2-1</text>
<text transform="translate(261.13 45.80) scale(1.037 1.000)" font-family="'Liberation Sans', sans-serif" font-size="12.90">1+1</text>
<text transform="translate(284.45 81.80) scale(1.202 1.000)" font-family="'Liberation Sans', sans-serif" font-size="12.43">2+2</text>
<text transform="translate(291.40 117.90) scale(1.121 1.000)" font-family="'Liberation Sans', sans-serif" font-size="12.43">2+1</text>
<text transform="translate(68.96 35.19) scale(1.258 1.000)" font-family="'Liberation Sans', sans-serif" font-size="26.00">&#x2192;</text>
<text transform="translate(68.96 65.09) scale(1.258 1.000)" font-family="'Liberation Sans', sans-serif" font-size="26.00">&#x2192;</text>
<text transform="translate(74.13 95.19) scale(1.226 1.000)" font-family="'Liberation Sans', sans-serif" font-size="26.00">&#x2192;</text>
<text transform="translate(70.53 158.69) scale(1.226 1.000)" font-family="'Liberation Sans', sans-serif" font-size="26.00">&#x2192;</text>
<text transform="translate(73.56 196.29) scale(1.239 1.000)" font-family="'Liberation Sans', sans-serif" font-size="26.00">&#x2192;</text>
<text transform="translate(71.96 232.59) scale(1.199 1.000)" font-family="'Liberation Sans', sans-serif" font-size="26.00">&#x2192;</text>
<text transform="translate(267.29 30.49) scale(1.291 1.000)" font-family="'Liberation Sans', sans-serif" font-size="26.00">&#x2192;</text>
<text transform="translate(291.56 66.29) scale(1.278 1.000)" font-family="'Liberation Sans', sans-serif" font-size="26.00">&#x2192;</text>
<text transform="translate(298.32 102.29) scale(1.284 1.000)" font-family="'Liberation Sans', sans-serif" font-size="26.00">&#x2192;</text>
<text transform="translate(321.66 163.70) scale(1.077 1.000)" font-family="'Liberation Sans', sans-serif" font-size="33.09">(a)</text>
<text transform="translate(52.83 666.56) scale(1.056 1.000)" font-family="'Liberation Sans', sans-serif" font-size="34.26">(b)</text>
<text transform="translate(195.60 749.53) scale(1.168 1.000)" font-family="'Liberation Serif', serif" font-size="44.15" font-style="italic" stroke="#000" stroke-width="0.75" stroke-linejoin="round">u</text>
</g>
</svg>
</body></html>
